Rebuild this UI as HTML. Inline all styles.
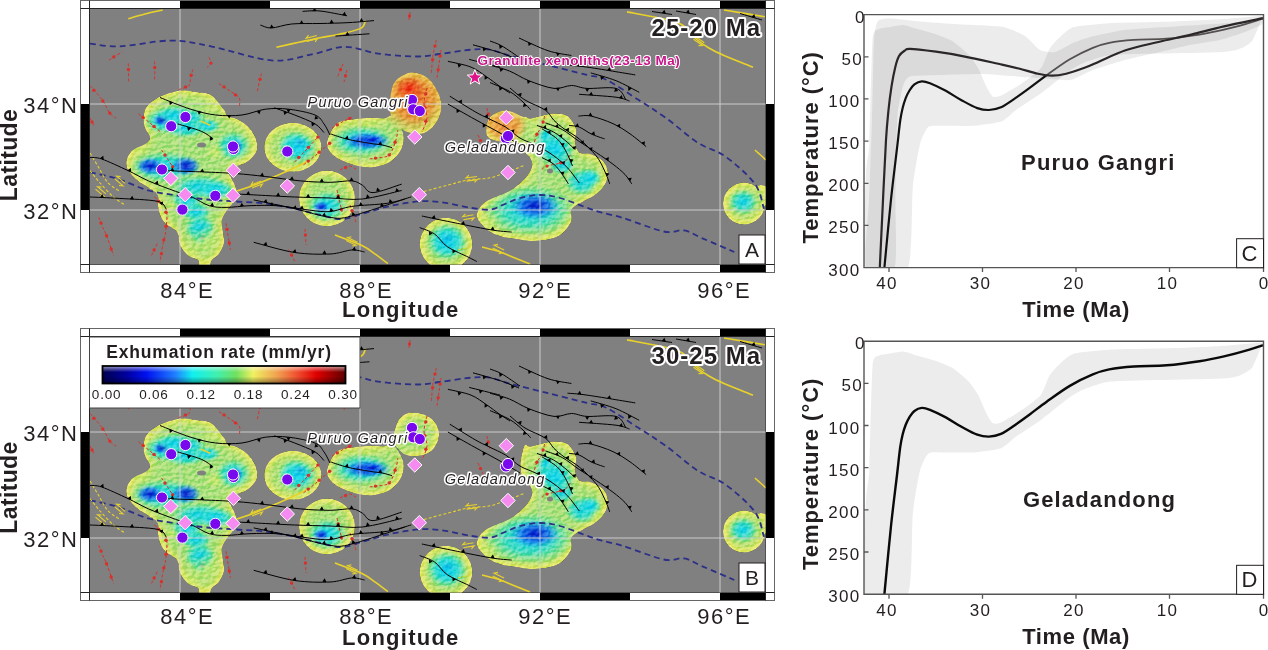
<!DOCTYPE html><html><head><meta charset="utf-8"><style>html,body{margin:0;padding:0;background:#fff;overflow:hidden}svg{display:block}text{font-family:"Liberation Sans",Arial,sans-serif}</style></head><body>
<svg width="1268" height="650" viewBox="0 0 1268 650"><defs>
<radialGradient id="g_cyan"><stop offset="0" stop-color="#10d8f0" stop-opacity="1"/><stop offset="0.55" stop-color="#30e0e0" stop-opacity="0.75"/><stop offset="1" stop-color="#70eac0" stop-opacity="0"/></radialGradient>
<radialGradient id="g_yel"><stop offset="0" stop-color="#d4ec78" stop-opacity="0.85"/><stop offset="1" stop-color="#d4ec78" stop-opacity="0"/></radialGradient>
<radialGradient id="g_blue"><stop offset="0" stop-color="#0a20d0" stop-opacity="1"/><stop offset="0.55" stop-color="#1870f0" stop-opacity="0.75"/><stop offset="1" stop-color="#30b0f0" stop-opacity="0"/></radialGradient>
<radialGradient id="g_orange"><stop offset="0" stop-color="#f07030" stop-opacity="1"/><stop offset="0.55" stop-color="#f0a040" stop-opacity="0.85"/><stop offset="1" stop-color="#f0d060" stop-opacity="0"/></radialGradient>
<radialGradient id="g_red"><stop offset="0" stop-color="#f02010" stop-opacity="0.9"/><stop offset="1" stop-color="#f05020" stop-opacity="0"/></radialGradient>
<radialGradient id="g_orange2"><stop offset="0" stop-color="#eea050" stop-opacity="1"/><stop offset="0.6" stop-color="#f0b050" stop-opacity="0.9"/><stop offset="1" stop-color="#f0d070" stop-opacity="0"/></radialGradient>
<filter id="blobcol" filterUnits="userSpaceOnUse" x="80" y="0" width="700" height="280" color-interpolation-filters="sRGB">
<feGaussianBlur in="SourceAlpha" stdDeviation="7" result="b"/>
<feColorMatrix in="b" type="matrix" values="0 0 0 1 0  0 0 0 1 0  0 0 0 1 0  0 0 0 0 1" result="g"/>
<feComponentTransfer in="g" result="c">
<feFuncR type="table" tableValues="0.93 0.93 0.93 0.93 0.93 0.92 0.88 0.83 0.78 0.74 0.71"/>
<feFuncG type="table" tableValues="0.93 0.93 0.93 0.93 0.93 0.93 0.92 0.91 0.90 0.90 0.90"/>
<feFuncB type="table" tableValues="0.45 0.45 0.45 0.45 0.45 0.45 0.46 0.48 0.50 0.52 0.54"/>
</feComponentTransfer>
<feComposite in="c" in2="SourceAlpha" operator="in"/>
</filter>
<filter id="hill" filterUnits="userSpaceOnUse" x="90" y="9" width="676" height="256" color-interpolation-filters="sRGB">
<feTurbulence type="fractalNoise" baseFrequency="0.2 0.3" numOctaves="3" seed="11" result="t"/>
<feDiffuseLighting in="t" surfaceScale="4" diffuseConstant="1.0" lighting-color="#fff" result="l"><feDistantLight azimuth="225" elevation="35"/></feDiffuseLighting>
<feComponentTransfer in="l"><feFuncR type="linear" slope="0.7" intercept="0.05"/><feFuncG type="linear" slope="0.4" intercept="0.2"/><feFuncB type="linear" slope="0.4" intercept="0.2"/></feComponentTransfer>
</filter>
<filter id="turb" x="0" y="0" width="100%" height="100%"><feTurbulence type="fractalNoise" baseFrequency="0.18 0.35" numOctaves="2" seed="3"/><feColorMatrix type="matrix" values="0 0 0 0 0.2  0 0 0 0 0.3  0 0 0 0 0.1  0 0 0 -2.2 1.3"/></filter>
<pattern id="texture" patternUnits="userSpaceOnUse" width="676" height="256" x="90" y="9"><rect width="676" height="256" filter="url(#turb)"/></pattern>
<linearGradient id="noise"><stop offset="0" stop-color="#fff" stop-opacity="0"/></linearGradient>
<linearGradient id="cbar" x1="0" x2="1" y1="0" y2="0">
<stop offset="0" stop-color="#000050"/><stop offset="0.1" stop-color="#0000a0"/><stop offset="0.18" stop-color="#0010f0"/><stop offset="0.3" stop-color="#2080ff"/><stop offset="0.37" stop-color="#10f0f0"/><stop offset="0.47" stop-color="#40f0b0"/><stop offset="0.55" stop-color="#70e060"/><stop offset="0.62" stop-color="#f0f060"/><stop offset="0.72" stop-color="#f0a050"/><stop offset="0.8" stop-color="#f05030"/><stop offset="0.88" stop-color="#e00000"/><stop offset="1" stop-color="#600000"/></linearGradient>
<linearGradient id="cbarshade" x1="0" x2="0" y1="0" y2="1"><stop offset="0" stop-color="#fff" stop-opacity="0.6"/><stop offset="0.35" stop-color="#fff" stop-opacity="0"/><stop offset="0.6" stop-color="#000" stop-opacity="0"/><stop offset="1" stop-color="#000" stop-opacity="0.4"/></linearGradient>
</defs>
<rect width="1268" height="650" fill="#fff"/>
<g transform="translate(0,0)">
<rect x="80.5" y="0.5" width="694" height="272" fill="#fff" stroke="#666" stroke-width="1"/>
<rect x="180" y="1" width="90" height="7.5" fill="#000"/>
<rect x="180" y="264.5" width="90" height="7.5" fill="#000"/>
<rect x="360" y="1" width="90" height="7.5" fill="#000"/>
<rect x="360" y="264.5" width="90" height="7.5" fill="#000"/>
<rect x="540" y="1" width="90" height="7.5" fill="#000"/>
<rect x="540" y="264.5" width="90" height="7.5" fill="#000"/>
<rect x="720" y="1" width="45.5" height="7.5" fill="#000"/>
<rect x="720" y="264.5" width="45.5" height="7.5" fill="#000"/>
<rect x="81" y="104" width="8.5" height="106" fill="#000"/>
<rect x="765.5" y="104" width="8.5" height="106" fill="#000"/>
<path d="M89.5,0.5V272.5M765.5,0.5V272.5M80.5,8.5H774.5M80.5,264.5H774.5" stroke="#222" stroke-width="1" fill="none"/>
<svg x="90" y="9" width="675.5" height="255.5" viewBox="90 9 675.5 255.5" overflow="hidden">
<rect x="90" y="9" width="676" height="256" fill="#808080"/>
<clipPath id="clipA"><path d="M181.0,90.4 C186.0,90.0 191.0,91.2 196.0,92.0 C201.0,92.8 206.3,92.0 211.0,95.0 C215.7,98.0 221.2,106.3 224.0,109.8 C226.8,113.3 225.5,114.7 227.7,116.2 C229.9,117.7 233.6,117.3 237.0,119.0 C240.4,120.7 244.9,123.3 248.0,126.4 C251.1,129.5 253.8,133.8 255.4,137.5 C256.9,141.2 257.6,145.5 257.3,148.6 C257.0,151.7 255.4,153.7 253.6,156.0 C251.8,158.3 249.0,160.7 246.2,162.4 C243.4,164.1 239.8,164.9 237.0,166.1 C234.2,167.3 231.0,168.3 229.6,169.5 C228.2,170.7 228.2,171.6 228.5,173.0 C228.8,174.4 230.3,175.9 231.4,178.0 C232.5,180.1 234.1,183.0 235.0,185.5 C235.9,188.0 237.0,190.4 237.0,192.9 C237.0,195.4 236.6,197.5 235.0,200.3 C233.4,203.1 229.9,206.2 227.7,209.5 C225.5,212.8 222.8,216.2 222.0,220.0 C221.2,223.8 222.7,228.2 223.0,232.0 C223.3,235.8 224.7,239.3 224.0,243.0 C223.3,246.7 221.0,251.2 219.0,254.0 C217.0,256.8 213.7,258.0 212.0,260.0 C210.3,262.0 211.0,265.0 209.0,266.0 C207.0,267.0 201.8,267.0 200.0,266.0 C198.2,265.0 200.0,261.8 198.0,260.0 C196.0,258.2 191.0,258.0 188.0,255.5 C185.0,253.0 181.8,248.9 180.0,245.0 C178.2,241.1 179.3,235.5 177.0,232.0 C174.7,228.5 168.8,226.7 166.0,224.0 C163.2,221.3 161.8,219.0 160.5,216.0 C159.2,213.0 158.5,209.5 158.0,206.0 C157.5,202.5 159.2,198.1 157.5,195.0 C155.8,191.9 151.2,189.8 148.0,187.5 C144.8,185.2 141.0,183.4 138.0,181.0 C135.0,178.6 131.9,175.5 130.0,173.0 C128.1,170.5 126.9,168.6 126.5,166.0 C126.1,163.4 126.3,160.2 127.5,157.5 C128.7,154.8 130.4,151.9 133.5,149.6 C136.6,147.3 143.1,145.5 145.8,143.5 C148.6,141.5 150.1,140.1 150.0,137.5 C149.9,134.9 146.1,131.1 145.0,128.0 C143.9,124.9 143.4,122.1 143.5,118.8 C143.6,115.5 144.1,111.1 145.8,108.0 C147.5,104.9 150.2,102.7 153.5,100.4 C156.8,98.1 161.2,95.9 165.8,94.2 C170.4,92.5 176.0,90.8 181.0,90.4 Z M264.2,147.3a28.6,24.5 0 1,0 57.2,0a28.6,24.5 0 1,0 -57.2,0Z M299,198.5a28,28 0 1,0 56,0a28,28 0 1,0 -56,0Z M327.6,139.5 C329.0,135.1 332.6,126.8 337.0,123.4 C341.4,120.0 348.3,120.1 353.9,119.2 C359.5,118.3 365.7,118.0 370.8,117.8 C375.9,117.6 380.9,118.6 384.3,118.3 C387.7,118.0 388.9,115.3 391.0,115.8 C393.1,116.2 395.0,118.2 397.0,121.0 C399.0,123.8 402.0,128.8 403.0,132.7 C404.0,136.6 403.9,140.9 403.0,144.6 C402.1,148.3 400.4,151.6 397.9,154.7 C395.3,157.8 392.2,161.1 387.7,163.2 C383.2,165.3 376.4,167.1 370.8,167.4 C365.2,167.7 359.5,166.5 353.9,164.9 C348.3,163.3 341.2,160.7 337.0,158.1 C332.8,155.5 330.1,152.7 328.5,149.6 C326.9,146.5 326.2,143.9 327.6,139.5 Z M419.7,244a26.3,26.3 0 1,0 52.6,0a26.3,26.3 0 1,0 -52.6,0Z M525.0,117.0 C526.4,115.8 527.7,118.8 530.2,118.6 C532.8,118.4 536.3,116.9 540.3,116.1 C544.2,115.2 549.4,113.5 553.9,113.5 C558.4,113.5 563.7,113.5 567.4,116.1 C571.1,118.6 574.6,124.4 575.9,128.8 C577.2,133.2 574.4,138.4 575.0,142.3 C575.6,146.2 576.6,150.5 579.3,152.5 C582.0,154.5 587.1,152.8 591.1,154.2 C595.1,155.6 600.2,157.9 603.0,161.0 C605.8,164.1 607.7,168.9 608.0,172.8 C608.3,176.8 606.9,181.0 604.7,184.7 C602.5,188.4 599.2,191.9 594.6,195.2 C590.0,198.5 581.1,202.1 577.2,204.7 C573.3,207.3 572.0,208.1 571.0,211.0 C570.0,213.9 573.1,217.8 571.0,222.0 C568.9,226.2 564.4,233.0 558.3,236.2 C552.2,239.4 542.1,240.6 534.6,241.0 C527.1,241.4 518.3,239.2 513.0,238.5 C507.7,237.8 507.0,238.2 503.0,237.0 C499.0,235.8 493.3,234.3 489.0,231.0 C484.7,227.7 478.2,221.7 477.0,217.3 C475.8,212.9 479.2,208.0 482.0,204.7 C484.8,201.4 489.1,199.9 493.8,197.5 C498.6,195.1 505.3,193.6 510.5,190.4 C515.7,187.2 521.3,182.5 524.9,178.5 C528.5,174.5 531.2,170.1 532.0,166.5 C532.8,162.9 531.2,159.8 529.6,157.0 C528.0,154.2 524.0,153.0 522.5,149.9 C521.0,146.8 520.5,142.2 520.4,138.2 C520.3,134.2 521.2,129.5 522.0,126.0 C522.8,122.5 523.6,118.2 525.0,117.0 Z M723,203.6a21,21 0 1,0 42,0a21,21 0 1,0 -42,0Z M752,196a9,11 0 1,0 18,0a9,11 0 1,0 -18,0Z M391.1,92.1 C392.1,87.6 392.8,83.5 396.2,80.2 C399.6,77.0 406.0,72.9 411.4,72.6 C416.8,72.3 423.6,74.7 428.3,78.5 C433.0,82.3 437.2,90.1 439.3,95.5 C441.4,100.9 441.7,105.9 441.0,110.7 C440.3,115.5 437.8,120.5 435.1,124.2 C432.4,127.9 428.4,131.1 425.0,132.7 C421.6,134.3 418.2,133.9 414.8,133.6 C411.4,133.3 407.4,132.4 404.6,131.0 C401.8,129.6 400.3,127.5 398.0,125.0 C395.7,122.5 392.3,118.8 391.0,115.8 C389.7,112.8 390.2,111.2 390.2,107.3 C390.2,103.3 390.1,96.6 391.1,92.1 Z M486.2,130.8 C486.4,127.3 486.7,120.4 490.0,117.0 C493.3,113.6 500.4,110.6 505.8,110.5 C511.2,110.4 518.5,114.9 522.5,116.5 C526.5,118.1 528.0,117.4 529.6,120.0 C531.2,122.6 532.9,127.8 532.0,132.0 C531.1,136.2 527.2,143.2 524.0,145.0 C520.8,146.8 517.2,143.3 513.0,142.7 C508.8,142.1 502.6,142.3 498.6,141.5 C494.6,140.7 491.1,139.8 489.0,138.0 C486.9,136.2 486.0,134.3 486.2,130.8 Z"/></clipPath>
<g clip-path="url(#clipA)">
<g filter="url(#blobcol)"><path d="M181.0,90.4 C186.0,90.0 191.0,91.2 196.0,92.0 C201.0,92.8 206.3,92.0 211.0,95.0 C215.7,98.0 221.2,106.3 224.0,109.8 C226.8,113.3 225.5,114.7 227.7,116.2 C229.9,117.7 233.6,117.3 237.0,119.0 C240.4,120.7 244.9,123.3 248.0,126.4 C251.1,129.5 253.8,133.8 255.4,137.5 C256.9,141.2 257.6,145.5 257.3,148.6 C257.0,151.7 255.4,153.7 253.6,156.0 C251.8,158.3 249.0,160.7 246.2,162.4 C243.4,164.1 239.8,164.9 237.0,166.1 C234.2,167.3 231.0,168.3 229.6,169.5 C228.2,170.7 228.2,171.6 228.5,173.0 C228.8,174.4 230.3,175.9 231.4,178.0 C232.5,180.1 234.1,183.0 235.0,185.5 C235.9,188.0 237.0,190.4 237.0,192.9 C237.0,195.4 236.6,197.5 235.0,200.3 C233.4,203.1 229.9,206.2 227.7,209.5 C225.5,212.8 222.8,216.2 222.0,220.0 C221.2,223.8 222.7,228.2 223.0,232.0 C223.3,235.8 224.7,239.3 224.0,243.0 C223.3,246.7 221.0,251.2 219.0,254.0 C217.0,256.8 213.7,258.0 212.0,260.0 C210.3,262.0 211.0,265.0 209.0,266.0 C207.0,267.0 201.8,267.0 200.0,266.0 C198.2,265.0 200.0,261.8 198.0,260.0 C196.0,258.2 191.0,258.0 188.0,255.5 C185.0,253.0 181.8,248.9 180.0,245.0 C178.2,241.1 179.3,235.5 177.0,232.0 C174.7,228.5 168.8,226.7 166.0,224.0 C163.2,221.3 161.8,219.0 160.5,216.0 C159.2,213.0 158.5,209.5 158.0,206.0 C157.5,202.5 159.2,198.1 157.5,195.0 C155.8,191.9 151.2,189.8 148.0,187.5 C144.8,185.2 141.0,183.4 138.0,181.0 C135.0,178.6 131.9,175.5 130.0,173.0 C128.1,170.5 126.9,168.6 126.5,166.0 C126.1,163.4 126.3,160.2 127.5,157.5 C128.7,154.8 130.4,151.9 133.5,149.6 C136.6,147.3 143.1,145.5 145.8,143.5 C148.6,141.5 150.1,140.1 150.0,137.5 C149.9,134.9 146.1,131.1 145.0,128.0 C143.9,124.9 143.4,122.1 143.5,118.8 C143.6,115.5 144.1,111.1 145.8,108.0 C147.5,104.9 150.2,102.7 153.5,100.4 C156.8,98.1 161.2,95.9 165.8,94.2 C170.4,92.5 176.0,90.8 181.0,90.4 Z M264.2,147.3a28.6,24.5 0 1,0 57.2,0a28.6,24.5 0 1,0 -57.2,0Z M299,198.5a28,28 0 1,0 56,0a28,28 0 1,0 -56,0Z M327.6,139.5 C329.0,135.1 332.6,126.8 337.0,123.4 C341.4,120.0 348.3,120.1 353.9,119.2 C359.5,118.3 365.7,118.0 370.8,117.8 C375.9,117.6 380.9,118.6 384.3,118.3 C387.7,118.0 388.9,115.3 391.0,115.8 C393.1,116.2 395.0,118.2 397.0,121.0 C399.0,123.8 402.0,128.8 403.0,132.7 C404.0,136.6 403.9,140.9 403.0,144.6 C402.1,148.3 400.4,151.6 397.9,154.7 C395.3,157.8 392.2,161.1 387.7,163.2 C383.2,165.3 376.4,167.1 370.8,167.4 C365.2,167.7 359.5,166.5 353.9,164.9 C348.3,163.3 341.2,160.7 337.0,158.1 C332.8,155.5 330.1,152.7 328.5,149.6 C326.9,146.5 326.2,143.9 327.6,139.5 Z M419.7,244a26.3,26.3 0 1,0 52.6,0a26.3,26.3 0 1,0 -52.6,0Z M525.0,117.0 C526.4,115.8 527.7,118.8 530.2,118.6 C532.8,118.4 536.3,116.9 540.3,116.1 C544.2,115.2 549.4,113.5 553.9,113.5 C558.4,113.5 563.7,113.5 567.4,116.1 C571.1,118.6 574.6,124.4 575.9,128.8 C577.2,133.2 574.4,138.4 575.0,142.3 C575.6,146.2 576.6,150.5 579.3,152.5 C582.0,154.5 587.1,152.8 591.1,154.2 C595.1,155.6 600.2,157.9 603.0,161.0 C605.8,164.1 607.7,168.9 608.0,172.8 C608.3,176.8 606.9,181.0 604.7,184.7 C602.5,188.4 599.2,191.9 594.6,195.2 C590.0,198.5 581.1,202.1 577.2,204.7 C573.3,207.3 572.0,208.1 571.0,211.0 C570.0,213.9 573.1,217.8 571.0,222.0 C568.9,226.2 564.4,233.0 558.3,236.2 C552.2,239.4 542.1,240.6 534.6,241.0 C527.1,241.4 518.3,239.2 513.0,238.5 C507.7,237.8 507.0,238.2 503.0,237.0 C499.0,235.8 493.3,234.3 489.0,231.0 C484.7,227.7 478.2,221.7 477.0,217.3 C475.8,212.9 479.2,208.0 482.0,204.7 C484.8,201.4 489.1,199.9 493.8,197.5 C498.6,195.1 505.3,193.6 510.5,190.4 C515.7,187.2 521.3,182.5 524.9,178.5 C528.5,174.5 531.2,170.1 532.0,166.5 C532.8,162.9 531.2,159.8 529.6,157.0 C528.0,154.2 524.0,153.0 522.5,149.9 C521.0,146.8 520.5,142.2 520.4,138.2 C520.3,134.2 521.2,129.5 522.0,126.0 C522.8,122.5 523.6,118.2 525.0,117.0 Z M723,203.6a21,21 0 1,0 42,0a21,21 0 1,0 -42,0Z M752,196a9,11 0 1,0 18,0a9,11 0 1,0 -18,0Z M391.1,92.1 C392.1,87.6 392.8,83.5 396.2,80.2 C399.6,77.0 406.0,72.9 411.4,72.6 C416.8,72.3 423.6,74.7 428.3,78.5 C433.0,82.3 437.2,90.1 439.3,95.5 C441.4,100.9 441.7,105.9 441.0,110.7 C440.3,115.5 437.8,120.5 435.1,124.2 C432.4,127.9 428.4,131.1 425.0,132.7 C421.6,134.3 418.2,133.9 414.8,133.6 C411.4,133.3 407.4,132.4 404.6,131.0 C401.8,129.6 400.3,127.5 398.0,125.0 C395.7,122.5 392.3,118.8 391.0,115.8 C389.7,112.8 390.2,111.2 390.2,107.3 C390.2,103.3 390.1,96.6 391.1,92.1 Z M486.2,130.8 C486.4,127.3 486.7,120.4 490.0,117.0 C493.3,113.6 500.4,110.6 505.8,110.5 C511.2,110.4 518.5,114.9 522.5,116.5 C526.5,118.1 528.0,117.4 529.6,120.0 C531.2,122.6 532.9,127.8 532.0,132.0 C531.1,136.2 527.2,143.2 524.0,145.0 C520.8,146.8 517.2,143.3 513.0,142.7 C508.8,142.1 502.6,142.3 498.6,141.5 C494.6,140.7 491.1,139.8 489.0,138.0 C486.9,136.2 486.0,134.3 486.2,130.8 Z" fill="#000"/></g>
<ellipse cx="165" cy="121" rx="22" ry="13" fill="url(#g_cyan)"/>
<ellipse cx="190" cy="118" rx="16" ry="10" fill="url(#g_cyan)"/>
<ellipse cx="185" cy="128" rx="22" ry="10" fill="url(#g_cyan)"/>
<ellipse cx="233" cy="146" rx="18" ry="15" fill="url(#g_cyan)"/>
<ellipse cx="162" cy="120" rx="9" ry="6" fill="url(#g_blue)"/>
<ellipse cx="235" cy="146" rx="8" ry="7" fill="url(#g_blue)"/>
<ellipse cx="165" cy="167" rx="36" ry="16" fill="url(#g_cyan)"/>
<ellipse cx="150" cy="166" rx="14" ry="9" fill="url(#g_blue)"/>
<ellipse cx="186" cy="166" rx="15" ry="10" fill="url(#g_blue)"/>
<ellipse cx="200" cy="187" rx="30" ry="12" fill="url(#g_cyan)"/>
<ellipse cx="196" cy="212" rx="16" ry="10" fill="url(#g_cyan)"/>
<ellipse cx="202" cy="237" rx="10" ry="9" fill="url(#g_cyan)"/>
<ellipse cx="202" cy="237" rx="4" ry="4" fill="url(#g_blue)"/>
<ellipse cx="295" cy="145" rx="17" ry="14" fill="url(#g_cyan)"/>
<ellipse cx="300" cy="143" rx="8" ry="6" fill="url(#g_blue)"/>
<ellipse cx="327" cy="206" rx="20" ry="16" fill="url(#g_cyan)"/>
<ellipse cx="321" cy="207" rx="8" ry="6" fill="url(#g_blue)"/>
<ellipse cx="362" cy="141" rx="32" ry="16" fill="url(#g_cyan)"/>
<ellipse cx="367" cy="141" rx="24" ry="9" fill="url(#g_blue)"/>
<ellipse cx="372" cy="140" rx="12" ry="5" fill="url(#g_blue)"/>
<ellipse cx="447" cy="241" rx="18" ry="16" fill="url(#g_cyan)"/>
<ellipse cx="447" cy="240" rx="8" ry="7" fill="url(#g_blue)"/>
<ellipse cx="530" cy="210" rx="46" ry="26" fill="url(#g_cyan)"/>
<ellipse cx="535" cy="206" rx="25" ry="14" fill="url(#g_blue)"/>
<ellipse cx="550" cy="145" rx="18" ry="14" fill="url(#g_cyan)"/>
<ellipse cx="582" cy="182" rx="18" ry="14" fill="url(#g_cyan)"/>
<ellipse cx="562" cy="165" rx="14" ry="10" fill="url(#g_cyan)"/>
<ellipse cx="743" cy="202" rx="15" ry="13" fill="url(#g_cyan)"/>
<ellipse cx="175" cy="115" rx="20" ry="10" fill="url(#g_cyan)"/>
<ellipse cx="207" cy="126" rx="14" ry="8" fill="url(#g_cyan)"/>
<ellipse cx="216" cy="190" rx="20" ry="10" fill="url(#g_cyan)"/>
<ellipse cx="186" cy="201" rx="18" ry="10" fill="url(#g_cyan)"/>
<ellipse cx="200" cy="228" rx="16" ry="14" fill="url(#g_cyan)"/>
<ellipse cx="298" cy="148" rx="20" ry="16" fill="url(#g_cyan)"/>
<ellipse cx="447" cy="242" rx="21" ry="19" fill="url(#g_cyan)"/>
<ellipse cx="556" cy="150" rx="20" ry="17" fill="url(#g_cyan)"/>
<ellipse cx="545" cy="135" rx="10" ry="8" fill="url(#g_cyan)"/>
<ellipse cx="590" cy="178" rx="12" ry="10" fill="url(#g_cyan)"/>
<ellipse cx="212" cy="106" rx="14" ry="9" fill="url(#g_yel)"/>
<ellipse cx="215" cy="152" rx="12" ry="9" fill="url(#g_yel)"/>
<ellipse cx="205" cy="240" rx="16" ry="14" fill="url(#g_yel)"/>
<ellipse cx="190" cy="252" rx="12" ry="8" fill="url(#g_yel)"/>
<ellipse cx="536" cy="130" rx="10" ry="10" fill="url(#g_yel)"/>
<ellipse cx="488" cy="222" rx="12" ry="9" fill="url(#g_yel)"/>
<ellipse cx="365" cy="124" rx="18" ry="5" fill="url(#g_yel)"/>
<ellipse cx="598" cy="188" rx="8" ry="8" fill="url(#g_yel)"/>
<ellipse cx="140" cy="150" rx="10" ry="6" fill="url(#g_yel)"/>
<ellipse cx="172" cy="205" rx="10" ry="8" fill="url(#g_yel)"/>
<ellipse cx="414" cy="100" rx="36" ry="36" fill="url(#g_orange)"/>
<ellipse cx="409" cy="88" rx="16" ry="12" fill="url(#g_red)"/>
<ellipse cx="505" cy="126" rx="24" ry="18" fill="url(#g_orange2)"/>
<rect x="90" y="9" width="676" height="256" filter="url(#hill)" style="mix-blend-mode:soft-light"/>
</g>
<ellipse cx="201.5" cy="145" rx="4.5" ry="2.5" fill="#808080"/>
<ellipse cx="550" cy="171" rx="3" ry="2.5" fill="#808080"/>
<path d="M180,9V265M360,9V265M540,9V265M720,9V265M90,104H766M90,210H766" stroke="#d4d4d4" stroke-width="1" fill="none" opacity="0.9"/>
<path d="M90.0,43.7 C95.0,44.1 106.6,46.8 120.0,46.3 C133.4,45.8 155.4,40.6 170.6,40.6 C185.8,40.6 194.2,43.0 211.0,46.3 C227.8,49.6 254.6,59.0 271.4,60.4 C288.2,61.8 299.4,56.7 311.7,54.4 C324.0,52.1 334.1,46.9 345.2,46.8 C356.2,46.7 366.1,52.0 378.0,53.6 C389.9,55.2 406.6,56.4 416.9,56.5 C427.2,56.6 431.0,55.1 440.0,54.0 C449.0,52.9 462.7,50.4 471.0,49.7 C479.3,49.0 483.6,48.7 490.0,49.7 C496.4,50.7 499.7,52.9 509.4,55.5 C519.1,58.1 535.1,62.0 548.0,65.2 C560.9,68.4 577.2,72.5 586.9,74.9 C596.6,77.3 597.6,75.5 606.3,79.7 C614.9,83.9 628.8,93.7 638.8,100.1 C648.8,106.5 656.1,110.9 666.0,118.0 C675.9,125.1 688.0,136.4 697.9,142.8 C707.8,149.2 715.7,149.6 725.2,156.4 C734.7,163.2 748.3,175.0 754.8,183.7 C761.2,192.4 762.4,204.6 763.9,208.8" fill="none" stroke="#2b2f86" stroke-width="1.8" stroke-dasharray="6,4" stroke-linecap="butt"/>
<path d="M90.0,172.1 C94.9,173.3 109.5,176.3 119.2,179.4 C128.9,182.5 138.8,187.8 148.5,190.5 C158.2,193.2 167.9,194.0 177.7,195.5 C187.4,197.0 197.2,198.5 207.0,199.5 C216.8,200.5 226.5,200.8 236.2,201.5 C245.9,202.2 255.6,202.3 265.4,203.5 C275.1,204.7 285.6,206.8 294.7,208.7 C303.8,210.6 312.2,213.2 320.0,214.9 C327.8,216.6 334.1,219.3 341.2,219.1 C348.3,218.9 355.3,215.7 362.4,213.8 C369.5,211.9 376.6,209.3 383.7,207.5 C390.8,205.7 397.8,204.3 404.9,203.2 C412.0,202.1 419.0,201.1 426.1,201.1 C433.2,201.1 440.2,202.1 447.3,203.2 C454.4,204.3 461.5,206.4 468.6,207.5 C475.7,208.6 483.9,210.2 490.0,209.6 C496.1,209.0 500.0,205.9 505.0,204.0 C510.0,202.1 514.2,199.5 520.0,198.0 C525.8,196.5 533.3,195.0 540.0,195.0 C546.7,195.0 552.5,196.0 560.0,198.0 C567.5,200.0 578.3,204.6 585.0,207.0 C591.7,209.4 593.7,210.4 600.0,212.2 C606.3,214.0 612.2,214.7 622.8,217.9 C633.4,221.1 653.5,229.4 663.7,231.5 C673.9,233.6 677.8,229.3 684.2,230.4 C690.7,231.5 694.0,234.7 702.4,238.3 C710.8,241.9 729.0,249.7 734.3,252.0" fill="none" stroke="#2b2f86" stroke-width="1.8" stroke-dasharray="6,4" stroke-linecap="butt"/>
<path d="M128.3,18.7 C131.1,17.9 139.3,15.4 145.0,14.0 C150.7,12.6 159.7,10.7 162.6,10.0" fill="none" stroke="#e8d22a" stroke-width="1.6" stroke-linecap="butt"/>
<path d="M276.4,47.3 C280.3,46.4 292.7,43.6 300.0,42.0 C307.3,40.4 313.4,39.0 320.0,37.7 C326.6,36.4 332.6,35.8 339.4,34.2 C346.2,32.7 356.3,30.7 360.7,28.4 C365.1,26.1 364.7,21.9 365.5,20.6" fill="none" stroke="#e8d22a" stroke-width="1.6" stroke-linecap="butt"/>
<path d="M627.0,11.9 C632.2,12.9 648.9,15.6 658.0,17.7 C667.1,19.8 675.2,21.1 681.4,24.5 C687.6,27.9 690.5,34.1 695.0,38.0 C699.5,41.9 703.7,44.9 708.5,47.8 C713.3,50.7 716.6,52.3 724.0,55.5 C731.4,58.7 748.2,65.2 753.0,67.2" fill="none" stroke="#e8d22a" stroke-width="1.6" stroke-linecap="butt"/>
<path d="M724.0,10.0 C730.8,11.1 758.0,15.7 764.8,16.8" fill="none" stroke="#e8d22a" stroke-width="1.6" stroke-linecap="butt"/>
<path d="M334.9,235.0 C339.5,236.8 355.7,242.5 362.4,245.7 C369.1,248.9 370.9,251.2 375.2,254.2 C379.4,257.2 385.8,262.1 387.9,263.7" fill="none" stroke="#e8d22a" stroke-width="1.6" stroke-linecap="butt"/>
<path d="M227.4,194.0 C231.8,192.6 242.5,189.7 253.7,185.3 C264.9,180.9 285.3,171.9 294.7,167.7 C304.1,163.5 307.4,161.3 310.0,160.0" fill="none" stroke="#e8d22a" stroke-width="1.6" stroke-linecap="butt"/>
<path d="M482.0,247.0 C485.0,247.8 494.5,250.2 500.0,252.0 C505.5,253.8 510.0,256.0 515.0,258.0 C520.0,260.0 527.5,263.0 530.0,264.0" fill="none" stroke="#e8d22a" stroke-width="1.6" stroke-linecap="butt"/>
<path d="M755.0,150.0 C756.8,151.7 764.2,158.3 766.0,160.0" fill="none" stroke="#e8d22a" stroke-width="1.6" stroke-linecap="butt"/>
<path d="M201.0,121.0 C202.5,121.7 208.5,124.6 210.0,125.3" fill="none" stroke="#e8d22a" stroke-width="1.6" stroke-linecap="butt"/>
<path d="M306.9,41.5L317.5,38.6L315.1,41.8M316.7,35.5L306.1,38.4L308.5,35.2" fill="none" stroke="#e8d22a" stroke-width="1.1"/>
<path d="M252.1,187.9L262.4,184.1L260.2,187.5M261.3,181.1L251.0,184.9L253.2,181.5" fill="none" stroke="#e8d22a" stroke-width="1.1"/>
<path d="M466.5,181.1L477.4,179.6L474.5,182.4M476.9,176.5L466.0,178.0L468.9,175.2" fill="none" stroke="#e8d22a" stroke-width="1.1"/>
<path d="M463.3,219.8L474.1,217.9L471.4,220.8M473.5,214.8L462.7,216.7L465.4,213.8" fill="none" stroke="#e8d22a" stroke-width="1.1"/>
<path d="M492.7,248.1L502.7,252.8L498.8,253.6M504.1,249.9L494.1,245.2L498.0,244.4" fill="none" stroke="#e8d22a" stroke-width="1.1"/>
<path d="M693.5,39.2L702.5,45.5L698.5,45.6M704.3,42.8L695.3,36.5L699.3,36.4" fill="none" stroke="#e8d22a" stroke-width="1.1"/>
<path d="M346.1,240.5L356.1,245.2L352.2,246.0M357.5,242.3L347.5,237.6L351.4,236.8" fill="none" stroke="#e8d22a" stroke-width="1.1"/>
<path d="M114.6,178.7L123.0,185.8L119.0,185.5M125.0,183.3L116.6,176.2L120.6,176.5" fill="none" stroke="#e8d22a" stroke-width="1.1"/>
<path d="M95.5,189.2L103.9,196.3L99.9,196.0M105.9,193.8L97.5,186.7L101.5,187.0" fill="none" stroke="#e8d22a" stroke-width="1.1"/>
<path d="M424.0,191.5 C427.9,190.4 439.9,187.1 447.3,185.2 C454.7,183.3 461.5,181.1 468.6,179.9 C475.7,178.7 483.1,179.3 490.0,177.8 C496.9,176.3 504.2,173.1 510.0,171.0 C515.8,168.9 522.5,166.0 525.0,165.0" fill="none" stroke="#e8d22a" stroke-width="1.1" stroke-dasharray="3,2" stroke-linecap="butt"/>
<path d="M90.0,153.0 C91.5,155.4 95.9,162.8 98.8,167.7 C101.7,172.6 104.1,178.4 107.5,182.3 C110.9,186.2 117.2,189.6 119.2,191.0" fill="none" stroke="#e8d22a" stroke-width="1.1" stroke-dasharray="3,2" stroke-linecap="butt"/>
<path d="M90.0,170.6 C91.7,172.7 96.1,178.6 100.0,183.0 C103.9,187.4 109.2,193.3 113.4,197.0 C117.6,200.7 123.1,203.7 125.0,205.0" fill="none" stroke="#e8d22a" stroke-width="1.1" stroke-dasharray="3,2" stroke-linecap="butt"/>
<path d="M458.0,250.0 C460.0,249.5 468.0,247.5 470.0,247.0" fill="none" stroke="#e8d22a" stroke-width="1.1" stroke-dasharray="3,2" stroke-linecap="butt"/>
<path d="M109.0,60.4 C110.0,59.7 112.8,57.4 115.0,56.0 C117.2,54.6 121.1,52.9 122.3,52.3" fill="none" stroke="#d8312c" stroke-width="1.0" stroke-dasharray="3,2" stroke-linecap="butt"/>
<circle cx="113.8" cy="56.9" r="1.7" fill="#d8312c"/>
<path d="M128.3,63.4 C128.3,64.8 128.4,69.0 128.5,72.0 C128.6,75.0 128.7,80.0 128.7,81.6" fill="none" stroke="#d8312c" stroke-width="1.0" stroke-dasharray="3,2" stroke-linecap="butt"/>
<circle cx="128.4" cy="69.4" r="1.7" fill="#d8312c"/>
<path d="M154.5,61.4 C154.6,62.8 154.8,67.0 154.8,70.0 C154.8,73.0 154.6,78.0 154.5,79.6" fill="none" stroke="#d8312c" stroke-width="1.0" stroke-dasharray="3,2" stroke-linecap="butt"/>
<circle cx="154.7" cy="67.4" r="1.7" fill="#d8312c"/>
<path d="M192.8,69.5 C192.4,70.9 191.2,75.3 190.5,78.0 C189.8,80.7 190.8,83.7 188.8,85.6 C186.8,87.5 180.4,88.9 178.7,89.6" fill="none" stroke="#d8312c" stroke-width="1.0" stroke-dasharray="3,2" stroke-linecap="butt"/>
<circle cx="191.2" cy="75.3" r="1.7" fill="#d8312c"/>
<circle cx="185.6" cy="86.9" r="1.7" fill="#d8312c"/>
<path d="M209.0,57.4 C209.3,58.4 211.3,61.7 211.0,63.4 C210.7,65.1 207.7,66.8 207.0,67.5" fill="none" stroke="#d8312c" stroke-width="1.0" stroke-dasharray="3,2" stroke-linecap="butt"/>
<circle cx="210.9" cy="63.1" r="1.7" fill="#d8312c"/>
<path d="M219.0,83.6 C221.0,84.9 227.7,89.3 231.1,91.7 C234.5,94.1 237.8,95.4 239.2,97.7 C240.6,100.0 239.4,104.5 239.5,105.8" fill="none" stroke="#d8312c" stroke-width="1.0" stroke-dasharray="3,2" stroke-linecap="butt"/>
<circle cx="224.0" cy="86.9" r="1.7" fill="#d8312c"/>
<circle cx="235.5" cy="94.9" r="1.7" fill="#d8312c"/>
<path d="M261.4,73.5 C261.1,74.8 260.1,78.6 259.4,81.6 C258.7,84.6 257.6,90.0 257.3,91.7" fill="none" stroke="#d8312c" stroke-width="1.0" stroke-dasharray="3,2" stroke-linecap="butt"/>
<circle cx="260.0" cy="79.3" r="1.7" fill="#d8312c"/>
<path d="M90.0,85.6 C92.0,87.9 98.7,95.0 102.1,99.7 C105.5,104.4 107.8,110.8 110.2,113.8 C112.6,116.8 115.2,117.2 116.2,117.9" fill="none" stroke="#d8312c" stroke-width="1.0" stroke-dasharray="3,2" stroke-linecap="butt"/>
<circle cx="93.9" cy="90.2" r="1.7" fill="#d8312c"/>
<circle cx="102.8" cy="100.9" r="1.7" fill="#d8312c"/>
<circle cx="109.8" cy="113.1" r="1.7" fill="#d8312c"/>
<path d="M90.0,117.9 C90.7,119.2 93.3,124.6 94.0,125.9" fill="none" stroke="#d8312c" stroke-width="1.0" stroke-dasharray="3,2" stroke-linecap="butt"/>
<circle cx="92.0" cy="121.9" r="1.7" fill="#d8312c"/>
<path d="M138.4,113.8 C140.3,115.3 146.3,120.0 150.0,123.0 C153.7,126.0 158.8,130.5 160.6,132.0" fill="none" stroke="#d8312c" stroke-width="1.0" stroke-dasharray="3,2" stroke-linecap="butt"/>
<circle cx="143.1" cy="117.5" r="1.7" fill="#d8312c"/>
<circle cx="154.0" cy="126.4" r="1.7" fill="#d8312c"/>
<path d="M161.6,150.0 C162.5,151.3 165.1,155.1 167.0,158.0 C168.9,160.9 172.2,166.1 173.3,167.7" fill="none" stroke="#d8312c" stroke-width="1.0" stroke-dasharray="3,2" stroke-linecap="butt"/>
<circle cx="165.0" cy="155.0" r="1.7" fill="#d8312c"/>
<circle cx="172.6" cy="166.7" r="1.7" fill="#d8312c"/>
<path d="M98.8,217.4 C99.5,219.2 101.5,224.6 103.0,228.0 C104.5,231.4 105.8,233.4 107.5,238.0 C109.2,242.6 112.4,252.5 113.4,255.4" fill="none" stroke="#d8312c" stroke-width="1.0" stroke-dasharray="3,2" stroke-linecap="butt"/>
<circle cx="101.0" cy="223.0" r="1.7" fill="#d8312c"/>
<circle cx="106.5" cy="235.8" r="1.7" fill="#d8312c"/>
<circle cx="111.2" cy="249.0" r="1.7" fill="#d8312c"/>
<path d="M154.3,197.0 C156.2,198.9 164.1,203.4 166.0,208.7 C167.9,214.0 166.5,223.2 166.0,229.0 C165.5,234.8 164.0,238.2 163.0,243.7 C162.0,249.2 160.5,258.9 160.0,262.0" fill="none" stroke="#d8312c" stroke-width="1.0" stroke-dasharray="3,2" stroke-linecap="butt"/>
<circle cx="158.5" cy="201.2" r="1.7" fill="#d8312c"/>
<circle cx="166.0" cy="212.2" r="1.7" fill="#d8312c"/>
<circle cx="166.0" cy="226.2" r="1.7" fill="#d8312c"/>
<circle cx="163.8" cy="239.9" r="1.7" fill="#d8312c"/>
<circle cx="161.4" cy="253.7" r="1.7" fill="#d8312c"/>
<path d="M151.4,255.4 C152.4,253.4 156.3,245.6 157.3,243.7" fill="none" stroke="#d8312c" stroke-width="1.0" stroke-dasharray="3,2" stroke-linecap="butt"/>
<circle cx="154.1" cy="250.0" r="1.7" fill="#d8312c"/>
<path d="M226.0,223.3 C226.7,227.7 229.7,245.2 230.4,249.6" fill="none" stroke="#d8312c" stroke-width="1.0" stroke-dasharray="3,2" stroke-linecap="butt"/>
<circle cx="227.0" cy="229.2" r="1.7" fill="#d8312c"/>
<circle cx="229.3" cy="243.0" r="1.7" fill="#d8312c"/>
<path d="M288.8,249.6 C289.8,251.6 293.7,259.4 294.7,261.3" fill="none" stroke="#d8312c" stroke-width="1.0" stroke-dasharray="3,2" stroke-linecap="butt"/>
<circle cx="291.5" cy="255.0" r="1.7" fill="#d8312c"/>
<path d="M305.0,229.0 C305.2,231.7 305.8,242.3 306.0,245.0" fill="none" stroke="#d8312c" stroke-width="1.0" stroke-dasharray="3,2" stroke-linecap="butt"/>
<circle cx="305.4" cy="235.0" r="1.7" fill="#d8312c"/>
<path d="M294.7,161.9 C296.6,159.9 302.1,154.2 306.0,150.0 C309.9,145.8 316.0,139.2 318.0,137.0" fill="none" stroke="#d8312c" stroke-width="1.0" stroke-dasharray="3,2" stroke-linecap="butt"/>
<circle cx="298.8" cy="157.5" r="1.7" fill="#d8312c"/>
<circle cx="308.4" cy="147.4" r="1.7" fill="#d8312c"/>
<circle cx="317.9" cy="137.1" r="1.7" fill="#d8312c"/>
<path d="M303.5,164.8 C305.6,163.2 311.6,158.7 316.0,155.0 C320.4,151.3 327.7,144.9 330.0,142.9" fill="none" stroke="#d8312c" stroke-width="1.0" stroke-dasharray="3,2" stroke-linecap="butt"/>
<circle cx="308.2" cy="161.1" r="1.7" fill="#d8312c"/>
<circle cx="319.1" cy="152.3" r="1.7" fill="#d8312c"/>
<circle cx="329.7" cy="143.2" r="1.7" fill="#d8312c"/>
<path d="M343.0,64.0 C342.0,66.3 338.0,75.7 337.0,78.0" fill="none" stroke="#d8312c" stroke-width="1.0" stroke-dasharray="3,2" stroke-linecap="butt"/>
<circle cx="340.6" cy="69.5" r="1.7" fill="#d8312c"/>
<path d="M347.0,70.0 C346.5,72.0 344.5,80.0 344.0,82.0" fill="none" stroke="#d8312c" stroke-width="1.0" stroke-dasharray="3,2" stroke-linecap="butt"/>
<circle cx="345.5" cy="75.8" r="1.7" fill="#d8312c"/>
<path d="M436.3,40.0 C435.8,42.5 433.8,49.5 433.0,55.0 C432.2,60.5 431.7,70.0 431.4,73.0" fill="none" stroke="#d8312c" stroke-width="1.0" stroke-dasharray="3,2" stroke-linecap="butt"/>
<circle cx="435.0" cy="45.9" r="1.7" fill="#d8312c"/>
<circle cx="432.6" cy="59.6" r="1.7" fill="#d8312c"/>
<path d="M441.0,50.0 C440.7,52.3 439.7,59.3 439.0,64.0 C438.3,68.7 437.3,75.7 437.0,78.0" fill="none" stroke="#d8312c" stroke-width="1.0" stroke-dasharray="3,2" stroke-linecap="butt"/>
<circle cx="440.2" cy="55.9" r="1.7" fill="#d8312c"/>
<circle cx="438.2" cy="69.8" r="1.7" fill="#d8312c"/>
<path d="M410.0,12.0 C409.8,13.3 409.2,18.7 409.0,20.0" fill="none" stroke="#d8312c" stroke-width="1.0" stroke-dasharray="3,2" stroke-linecap="butt"/>
<circle cx="409.5" cy="16.0" r="1.7" fill="#d8312c"/>
<path d="M427.0,88.0 C426.5,90.5 424.0,98.0 424.0,103.0 C424.0,108.0 427.3,113.2 427.0,118.0 C426.7,122.8 422.8,129.7 422.0,132.0" fill="none" stroke="#d8312c" stroke-width="1.0" stroke-dasharray="3,2" stroke-linecap="butt"/>
<circle cx="425.8" cy="93.9" r="1.7" fill="#d8312c"/>
<circle cx="424.9" cy="107.6" r="1.7" fill="#d8312c"/>
<circle cx="425.9" cy="121.2" r="1.7" fill="#d8312c"/>
<path d="M544.6,116.1 C544.2,117.8 543.3,123.2 542.0,126.2 C540.7,129.2 538.3,131.2 537.0,133.9 C535.7,136.6 534.8,140.9 534.4,142.3" fill="none" stroke="#d8312c" stroke-width="1.0" stroke-dasharray="3,2" stroke-linecap="butt"/>
<circle cx="543.1" cy="121.9" r="1.7" fill="#d8312c"/>
<circle cx="536.9" cy="134.3" r="1.7" fill="#d8312c"/>
<path d="M542.0,169.4 C542.9,168.8 543.4,167.3 547.1,166.0 C550.8,164.7 560.0,163.8 564.0,161.8 C568.0,159.8 569.7,155.5 570.8,154.2" fill="none" stroke="#d8312c" stroke-width="1.0" stroke-dasharray="3,2" stroke-linecap="butt"/>
<circle cx="547.0" cy="166.1" r="1.7" fill="#d8312c"/>
<circle cx="560.6" cy="162.7" r="1.7" fill="#d8312c"/>
<path d="M487.0,108.0 C487.5,110.3 489.5,119.7 490.0,122.0" fill="none" stroke="#d8312c" stroke-width="1.0" stroke-dasharray="3,2" stroke-linecap="butt"/>
<circle cx="488.3" cy="113.9" r="1.7" fill="#d8312c"/>
<path d="M478.0,135.0 C479.0,137.2 483.0,145.8 484.0,148.0" fill="none" stroke="#d8312c" stroke-width="1.0" stroke-dasharray="3,2" stroke-linecap="butt"/>
<circle cx="480.5" cy="140.4" r="1.7" fill="#d8312c"/>
<path d="M337.0,190.0 C337.8,193.7 341.2,208.3 342.0,212.0" fill="none" stroke="#d8312c" stroke-width="1.0" stroke-dasharray="3,2" stroke-linecap="butt"/>
<circle cx="338.3" cy="195.9" r="1.7" fill="#d8312c"/>
<circle cx="341.4" cy="209.5" r="1.7" fill="#d8312c"/>
<path d="M350.0,205.0 C351.0,207.8 355.0,219.2 356.0,222.0" fill="none" stroke="#d8312c" stroke-width="1.0" stroke-dasharray="3,2" stroke-linecap="butt"/>
<circle cx="352.0" cy="210.7" r="1.7" fill="#d8312c"/>
<path d="M369.6,158.9 C371.3,158.7 376.7,158.2 380.0,157.5 C383.3,156.8 386.7,157.6 389.3,154.9 C391.9,152.2 394.1,145.7 395.5,141.5 C396.9,137.3 397.6,131.9 398.0,130.0" fill="none" stroke="#d8312c" stroke-width="1.0" stroke-dasharray="3,2" stroke-linecap="butt"/>
<circle cx="375.5" cy="158.1" r="1.7" fill="#d8312c"/>
<circle cx="389.2" cy="154.9" r="1.7" fill="#d8312c"/>
<circle cx="395.1" cy="142.3" r="1.7" fill="#d8312c"/>
<path d="M340.0,170.0 C341.5,169.3 346.3,166.2 349.0,166.0 C351.7,165.8 354.8,168.5 356.0,169.0" fill="none" stroke="#d8312c" stroke-width="1.0" stroke-dasharray="3,2" stroke-linecap="butt"/>
<circle cx="345.5" cy="167.6" r="1.7" fill="#d8312c"/>
<path d="M332.1,128.0 C333.8,127.0 338.7,123.8 342.0,122.0 C345.3,120.2 350.2,118.2 351.8,117.4" fill="none" stroke="#d8312c" stroke-width="1.0" stroke-dasharray="3,2" stroke-linecap="butt"/>
<circle cx="337.2" cy="124.9" r="1.7" fill="#d8312c"/>
<circle cx="349.6" cy="118.4" r="1.7" fill="#d8312c"/>
<path d="M90.0,157.5 C92.0,157.8 95.4,156.8 101.7,159.0 C108.0,161.2 120.2,166.9 128.0,170.6 C135.8,174.2 140.6,177.4 148.5,180.9 C156.4,184.4 168.1,188.6 175.4,191.3 C182.7,194.0 186.7,194.8 192.3,197.2 C197.9,199.6 203.6,204.0 209.2,205.7 C214.8,207.4 219.3,207.4 226.1,207.4 C232.9,207.4 241.5,206.0 250.0,205.7 C258.5,205.4 267.2,205.0 277.1,205.7 C287.0,206.4 300.5,209.1 309.3,210.1 C318.1,211.1 322.9,212.2 330.0,211.6 C337.1,211.0 342.2,207.8 351.8,206.4 C361.4,205.0 378.0,204.8 387.9,203.2 C397.8,201.6 407.4,197.9 411.3,196.9" fill="none" stroke="#000" stroke-width="1.0"/><path d="M100.0,158.2L103.8,159.9L103.3,155.8ZM127.4,170.3L131.2,172.2L130.9,168.1ZM154.5,183.2L158.4,184.7L157.7,180.6ZM182.6,193.8L186.5,195.2L185.7,191.1ZM210.0,205.8L214.1,206.2L212.4,202.4ZM239.8,206.4L244.0,206.1L241.7,202.7ZM269.8,205.7L274.0,205.7L271.9,202.1ZM299.6,208.8L303.8,209.3L302.2,205.5ZM329.5,211.7L333.6,210.8L330.7,207.8ZM358.8,205.8L363.0,205.4L360.6,202.0ZM388.7,203.0L392.7,201.9L389.8,199.0Z" fill="#000"/>
<path d="M90.0,197.0 C94.9,197.2 108.0,197.7 119.2,198.4 C130.4,199.1 149.5,199.6 157.3,201.3 C165.1,203.0 164.6,207.5 166.0,208.7" fill="none" stroke="#000" stroke-width="1.0"/><path d="M99.9,197.5L104.1,197.7L102.2,194.0ZM129.8,199.2L134.0,199.5L132.2,195.8ZM159.2,202.9L162.4,205.6L163.1,201.5Z" fill="#000"/>
<path d="M160.2,170.6 C168.0,170.8 194.3,171.6 207.0,172.1 C219.7,172.6 226.5,172.9 236.2,173.6 C245.9,174.3 254.7,175.3 265.4,176.5 C276.1,177.7 289.7,179.9 300.5,180.9 C311.3,181.9 321.4,182.3 330.0,182.3 C338.6,182.3 346.4,180.4 351.8,180.9 C357.2,181.4 358.9,183.2 362.4,185.2 C365.9,187.1 366.4,192.8 373.0,192.6 C379.6,192.4 396.9,185.5 401.7,184.1" fill="none" stroke="#000" stroke-width="1.0"/><path d="M170.1,170.9L174.3,171.1L172.3,167.4ZM200.1,171.9L204.3,172.0L202.3,168.4ZM230.0,173.3L234.2,173.5L232.3,169.8ZM259.9,176.0L264.1,176.4L262.4,172.6ZM289.7,179.5L293.9,180.1L292.2,176.3ZM319.6,181.8L323.8,182.0L321.9,178.3ZM349.5,181.0L353.7,180.8L351.4,177.3ZM376.2,191.6L380.3,190.4L377.2,187.6Z" fill="#000"/>
<path d="M236.2,194.0 C241.1,194.2 255.6,195.0 265.4,195.5 C275.1,196.0 283.9,196.6 294.7,197.0 C305.5,197.4 318.7,197.7 330.0,198.0 C341.3,198.3 350.4,200.2 362.4,199.0 C374.3,197.8 395.1,191.9 401.7,190.5" fill="none" stroke="#000" stroke-width="1.0"/><path d="M246.1,194.5L250.3,194.7L248.4,191.1ZM276.0,196.0L280.2,196.3L278.3,192.6ZM306.0,197.3L310.2,197.4L308.2,193.8ZM336.0,198.2L340.2,198.3L338.2,194.7ZM365.9,198.2L370.0,197.4L367.2,194.3ZM395.2,191.9L399.3,191.0L396.5,188.0Z" fill="#000"/>
<path d="M253.7,199.9 C260.5,201.4 282.0,205.8 294.7,208.7 C307.4,211.6 320.5,216.2 330.0,217.4 C339.5,218.6 339.3,219.1 351.8,216.0 C364.3,212.9 396.0,201.8 404.9,199.0" fill="none" stroke="#000" stroke-width="1.0"/><path d="M263.4,202.0L267.5,202.9L266.2,198.9ZM292.7,208.2L296.8,209.2L295.6,205.2ZM321.9,215.4L325.9,216.4L324.7,212.4ZM351.6,216.1L355.6,214.8L352.5,212.0ZM380.1,206.9L384.1,205.6L381.1,202.9Z" fill="#000"/>
<path d="M160.0,97.5 C165.0,99.4 180.7,106.1 190.0,109.0 C199.3,111.9 207.0,114.0 215.7,115.0 C224.4,116.0 233.7,116.0 242.0,115.0 C250.3,114.0 257.6,110.2 265.4,109.2 C273.2,108.2 280.5,108.2 288.8,109.2 C297.1,110.2 309.1,112.5 315.0,115.0 C320.9,117.5 321.5,120.6 324.0,123.9 C326.5,127.2 329.0,133.2 330.0,135.0" fill="none" stroke="#000" stroke-width="1.0"/><path d="M169.2,101.0L173.2,102.5L169.9,105.1ZM197.6,110.8L201.7,111.7L198.8,114.7ZM227.1,115.0L231.3,115.0L229.2,118.6ZM256.6,111.4L260.7,110.4L259.5,114.3ZM286.4,109.2L290.6,109.2L288.5,112.8ZM315.5,115.5L318.5,118.5L314.5,119.5Z" fill="#000"/>
<path d="M274.2,107.8 C277.6,109.0 287.9,112.3 294.7,115.0 C301.5,117.7 310.2,121.0 315.1,123.9 C320.0,126.8 322.5,131.2 324.0,132.6" fill="none" stroke="#000" stroke-width="1.0"/><path d="M283.5,111.1L287.5,112.5L284.3,115.1ZM311.4,122.3L315.2,123.9L311.9,126.4Z" fill="#000"/>
<path d="M177.7,123.9 C181.6,125.1 195.2,128.8 201.1,131.2 C206.9,133.6 210.9,137.3 212.8,138.5" fill="none" stroke="#000" stroke-width="1.0"/><path d="M187.2,126.8L191.2,128.1L188.1,130.9ZM209.9,136.7L213.5,138.9L209.8,140.8Z" fill="#000"/>
<path d="M260.4,25.0 C262.2,25.5 266.2,28.2 271.4,28.0 C276.6,27.8 283.5,24.8 291.6,24.0 C299.7,23.2 310.4,23.7 320.0,23.5 C329.6,23.3 340.0,23.1 349.0,22.6 C358.0,22.1 369.8,20.9 374.0,20.6" fill="none" stroke="#000" stroke-width="1.0"/><path d="M269.9,28.3L274.0,27.5L271.3,24.4ZM299.5,23.9L303.7,23.8L301.5,20.3ZM329.5,23.2L333.7,23.1L331.5,19.6ZM359.5,21.8L363.6,21.4L361.3,18.0Z" fill="#000"/>
<path d="M302.6,11.4 C305.5,11.3 312.6,10.3 320.0,11.0 C327.4,11.7 342.5,15.0 347.0,15.8" fill="none" stroke="#000" stroke-width="1.0"/><path d="M312.5,11.2L316.7,11.1L314.5,7.6ZM342.1,14.9L346.3,15.7L344.8,11.8Z" fill="#000"/>
<path d="M335.5,36.1 C341.1,35.7 363.8,34.2 369.4,33.8" fill="none" stroke="#000" stroke-width="1.0"/><path d="M345.4,35.4L349.6,35.1L347.2,31.7Z" fill="#000"/>
<path d="M330.4,133.9 C333.2,134.8 340.8,137.6 347.3,139.2 C353.8,140.8 363.8,142.3 369.6,143.3 C375.4,144.3 378.4,144.3 382.1,145.0 C385.8,145.7 390.4,147.2 392.0,147.7" fill="none" stroke="#000" stroke-width="1.0"/><path d="M344.6,138.4L348.6,139.6L347.7,135.6ZM378.0,144.4L382.2,145.0L380.6,141.2Z" fill="#000"/>
<path d="M253.7,242.3 C260.5,244.0 282.0,250.6 294.7,252.5 C307.4,254.4 320.5,254.4 330.0,254.0 C339.5,253.6 346.0,250.3 351.8,250.0 C357.6,249.7 362.5,251.7 364.6,252.0" fill="none" stroke="#000" stroke-width="1.0"/><path d="M263.3,244.7L267.4,245.7L266.2,241.7ZM292.4,251.9L296.5,252.9L295.3,249.0ZM322.3,253.7L326.5,253.9L324.6,250.2ZM352.0,250.0L356.1,250.7L354.6,246.8Z" fill="#000"/>
<path d="M421.9,216.0 C426.1,216.9 435.9,219.0 447.3,221.3 C458.7,223.6 479.3,227.9 490.0,229.7 C500.7,231.5 508.1,231.7 511.7,232.1" fill="none" stroke="#000" stroke-width="1.0"/><path d="M431.6,218.0L435.7,218.9L434.4,215.0ZM461.0,224.0L465.1,224.8L463.7,220.9ZM490.4,229.7L494.6,230.2L492.9,226.4Z" fill="#000"/>
<path d="M419.7,227.6 C422.2,228.7 430.0,230.8 434.6,234.0 C439.2,237.2 441.6,242.8 447.3,246.7 C453.0,250.6 463.7,254.8 468.6,257.3 C473.6,259.8 475.6,260.9 477.0,261.6" fill="none" stroke="#000" stroke-width="1.0"/><path d="M428.8,231.5L432.7,233.2L429.3,235.6ZM452.4,249.2L456.2,251.1L452.7,253.4Z" fill="#000"/>
<path d="M473.0,44.8 C477.5,46.1 492.3,50.1 500.0,52.6 C507.7,55.1 515.8,58.8 519.0,60.0" fill="none" stroke="#000" stroke-width="1.0"/><path d="M482.5,47.5L486.5,48.7L483.5,51.6ZM511.0,56.9L514.9,58.4L511.7,61.0Z" fill="#000"/>
<path d="M447.9,61.3 C451.8,62.3 464.6,64.5 471.0,67.1 C477.4,69.7 481.8,73.6 486.6,76.8 C491.4,80.0 496.1,83.8 500.0,86.5 C503.9,89.2 508.3,91.9 510.0,93.0" fill="none" stroke="#000" stroke-width="1.0"/><path d="M457.5,63.7L461.6,64.7L458.7,67.7ZM484.7,75.6L488.2,77.8L484.6,79.7Z" fill="#000"/>
<path d="M469.2,59.4 C474.3,60.7 494.9,65.8 500.0,67.1" fill="none" stroke="#000" stroke-width="1.0"/><path d="M478.8,61.8L482.9,62.8L480.0,65.8Z" fill="#000"/>
<path d="M447.9,104.0 C452.4,106.6 466.3,114.6 475.0,119.4 C483.7,124.2 492.5,128.7 500.0,133.0 C507.5,137.3 516.7,143.0 520.0,145.0" fill="none" stroke="#000" stroke-width="1.0"/><path d="M456.5,108.9L460.2,111.0L456.6,113.0ZM482.7,123.6L486.4,125.6L482.8,127.7ZM508.8,138.3L512.4,140.4L508.8,142.4Z" fill="#000"/>
<path d="M519.0,38.0 C523.8,40.1 539.3,47.8 548.0,50.7 C556.7,53.6 567.5,54.7 571.4,55.5" fill="none" stroke="#000" stroke-width="1.0"/><path d="M528.1,42.0L531.9,43.7L528.6,46.1ZM556.1,52.4L560.2,53.2L557.4,56.3Z" fill="#000"/>
<path d="M490.0,41.0 C491.9,41.8 496.6,43.0 501.6,45.8 C506.6,48.6 516.9,56.0 520.0,58.0" fill="none" stroke="#000" stroke-width="1.0"/><path d="M499.1,44.8L503.0,46.4L499.7,48.9Z" fill="#000"/>
<path d="M490.0,65.2 C493.2,66.2 502.9,68.4 509.4,71.0 C515.9,73.6 521.4,77.8 528.8,80.7 C536.2,83.6 546.9,87.6 554.0,88.4 C561.1,89.2 565.9,85.5 571.4,85.5 C576.9,85.5 579.5,87.9 586.9,88.4 C594.3,88.9 609.5,86.6 616.0,88.4 C622.5,90.2 624.0,97.3 625.6,99.1" fill="none" stroke="#000" stroke-width="1.0"/><path d="M499.5,68.0L503.5,69.2L500.5,72.1ZM526.9,80.1L530.9,81.3L527.8,84.1ZM555.6,88.1L559.7,87.4L558.2,91.3ZM585.1,88.4L589.3,88.4L587.2,92.0ZM615.4,87.7L618.2,90.9L614.1,91.7Z" fill="#000"/>
<path d="M490.0,82.6 C493.2,84.0 503.9,88.1 509.4,91.3 C514.9,94.5 519.5,98.9 523.0,102.0 C526.5,105.1 529.4,108.5 530.7,109.8" fill="none" stroke="#000" stroke-width="1.0"/><path d="M499.0,86.7L502.9,88.4L499.5,90.8ZM523.9,102.9L526.9,105.9L522.9,107.0Z" fill="#000"/>
<path d="M567.5,65.2 C570.7,65.5 575.6,65.5 586.9,67.1 C598.2,68.7 627.2,73.6 635.3,74.9" fill="none" stroke="#000" stroke-width="1.0"/><path d="M577.4,66.2L581.5,66.6L579.8,62.8ZM607.0,70.3L611.2,71.0L609.7,67.2Z" fill="#000"/>
<path d="M590.8,72.9 C595.0,74.2 607.9,77.5 616.0,80.7 C624.1,83.9 635.3,90.4 639.2,92.3" fill="none" stroke="#000" stroke-width="1.0"/><path d="M600.3,75.8L604.3,77.1L601.2,79.9ZM628.1,86.7L631.8,88.6L628.4,90.9Z" fill="#000"/>
<path d="M579.1,94.3 C585.2,94.8 607.6,96.1 616.0,97.2 C624.4,98.3 627.2,100.4 629.5,101.0" fill="none" stroke="#000" stroke-width="1.0"/><path d="M589.0,95.1L593.2,95.4L591.3,91.7ZM618.8,98.0L622.8,99.1L621.8,95.1Z" fill="#000"/>
<path d="M652.0,11.5 C655.3,12.0 668.7,14.0 672.0,14.5" fill="none" stroke="#000" stroke-width="1.0"/><path d="M661.8,13.0L665.9,13.6L664.4,9.7Z" fill="#000"/>
<path d="M676.0,11.0 C679.3,11.6 692.7,13.9 696.0,14.5" fill="none" stroke="#000" stroke-width="1.0"/><path d="M685.8,12.7L689.9,13.4L688.4,9.6Z" fill="#000"/>
<path d="M740.0,13.5 C743.7,14.6 758.3,18.9 762.0,20.0" fill="none" stroke="#000" stroke-width="1.0"/><path d="M751.4,16.9L755.4,18.1L754.4,14.0Z" fill="#000"/>
<path d="M449.8,96.2 C454.0,98.8 468.5,107.9 475.0,111.7 C481.5,115.5 483.9,116.2 489.0,118.8 C494.1,121.4 500.6,124.0 505.8,127.2 C511.0,130.4 514.8,135.0 520.0,138.1 C525.2,141.2 531.4,142.7 537.0,145.7 C542.6,148.7 548.8,152.2 553.9,155.9 C559.0,159.6 563.2,163.2 567.4,167.7 C571.6,172.2 577.3,180.4 579.3,183.0" fill="none" stroke="#000" stroke-width="1.0"/><path d="M458.2,101.4L461.8,103.6L461.9,99.4ZM484.2,116.4L487.9,118.3L487.7,114.1ZM510.4,130.8L513.8,133.3L514.3,129.2ZM536.4,145.3L540.0,147.5L540.1,143.4ZM561.1,162.2L564.3,165.0L565.0,160.9Z" fill="#000"/>
<path d="M510.0,88.0 C512.5,90.0 519.1,96.3 525.0,100.0 C530.9,103.7 540.6,106.8 545.4,110.2 C550.2,113.6 550.8,117.2 553.9,120.3 C557.0,123.4 559.8,125.7 564.0,128.8 C568.2,131.9 573.9,134.5 579.3,139.0 C584.7,143.5 592.0,150.6 596.2,155.9 C600.4,161.2 602.5,166.4 604.7,171.1 C607.0,175.8 608.9,181.7 609.7,183.8" fill="none" stroke="#000" stroke-width="1.0"/><path d="M517.7,94.2L521.0,96.8L521.6,92.7ZM543.5,109.3L547.3,111.1L547.0,107.0ZM565.2,129.6L568.7,132.0L569.0,127.8ZM588.6,148.3L591.5,151.2L592.6,147.2ZM605.4,172.8L606.9,176.7L609.4,173.4Z" fill="#000"/>
<path d="M545.4,122.9 C548.2,124.0 556.6,126.5 562.3,129.6 C567.9,132.7 573.6,137.7 579.3,141.5 C584.9,145.3 590.6,148.7 596.2,152.5 C601.8,156.3 608.3,160.6 613.1,164.3 C617.9,168.0 621.9,171.2 625.0,174.5 C628.1,177.8 630.6,182.2 631.7,183.8" fill="none" stroke="#000" stroke-width="1.0"/><path d="M554.6,126.5L558.5,128.1L557.9,124.0ZM580.1,142.0L583.6,144.3L583.8,140.2ZM605.1,158.7L608.5,161.1L608.8,157.0ZM627.6,178.2L630.1,181.6L631.8,177.8Z" fill="#000"/>
<path d="M578.4,116.1 C580.5,116.1 585.3,114.8 591.1,116.1 C596.9,117.4 606.6,120.7 613.1,123.7 C619.6,126.7 624.6,130.1 630.1,133.9 C635.6,137.7 643.4,144.5 646.1,146.6" fill="none" stroke="#000" stroke-width="1.0"/><path d="M588.3,116.1L592.5,116.1L590.4,112.5ZM616.5,125.7L620.1,127.9L620.1,123.7ZM641.1,142.7L644.4,145.3L645.0,141.2Z" fill="#000"/>
<path d="M569.1,125.4 C570.8,125.7 575.6,125.7 579.3,127.1 C583.0,128.5 586.9,131.9 591.1,133.9 C595.3,135.9 602.4,138.1 604.7,138.9" fill="none" stroke="#000" stroke-width="1.0"/><path d="M574.9,126.4L579.1,127.1L577.6,123.2ZM591.0,133.9L595.0,135.3L594.2,131.3Z" fill="#000"/>
<path d="M537.0,125.4 C539.8,126.5 548.8,129.4 553.9,132.2 C559.0,135.0 564.0,139.5 567.4,142.3 C570.8,145.1 573.1,148.0 574.2,149.1" fill="none" stroke="#000" stroke-width="1.0"/><path d="M542.5,127.6L546.4,129.2L545.8,125.1ZM558.5,135.6L561.8,138.1L562.3,134.0ZM572.2,147.1L575.2,150.1L576.2,146.1Z" fill="#000"/>
<path d="M542.0,128.8 C544.5,130.5 553.3,135.3 557.3,139.0 C561.2,142.7 563.2,146.3 565.7,150.8 C568.2,155.3 571.4,163.5 572.5,166.0" fill="none" stroke="#000" stroke-width="1.0"/><path d="M546.9,132.1L550.4,134.4L550.6,130.3ZM560.5,143.5L562.9,146.9L564.6,143.1ZM569.4,159.0L571.1,162.9L573.5,159.5Z" fill="#000"/>
<path d="M542.0,157.6 C544.0,158.7 550.5,161.5 553.9,164.3 C557.3,167.1 559.9,171.2 562.3,174.5 C564.7,177.8 567.3,182.2 568.3,183.8" fill="none" stroke="#000" stroke-width="1.0"/><path d="M547.1,160.5L550.8,162.6L550.7,158.4ZM560.4,172.2L563.1,175.4L564.5,171.6Z" fill="#000"/>
<path d="M170.8,171.2L178.0,178.4L170.8,185.6L163.6,178.4Z" fill="#f58af0" stroke="#fff" stroke-width="1"/>
<path d="M185.2,187.5L192.4,194.7L185.2,201.9L178.0,194.7Z" fill="#f58af0" stroke="#fff" stroke-width="1"/>
<path d="M233.4,163.1L240.6,170.3L233.4,177.5L226.2,170.3Z" fill="#f58af0" stroke="#fff" stroke-width="1"/>
<path d="M233.0,188.2L240.2,195.4L233.0,202.6L225.8,195.4Z" fill="#f58af0" stroke="#fff" stroke-width="1"/>
<path d="M287.3,178.8L294.5,186.0L287.3,193.2L280.1,186.0Z" fill="#f58af0" stroke="#fff" stroke-width="1"/>
<path d="M414.8,129.8L422.0,137.0L414.8,144.2L407.6,137.0Z" fill="#f58af0" stroke="#fff" stroke-width="1"/>
<path d="M419.3,187.5L426.5,194.7L419.3,201.9L412.1,194.7Z" fill="#f58af0" stroke="#fff" stroke-width="1"/>
<path d="M506.3,110.5L513.5,117.7L506.3,124.9L499.1,117.7Z" fill="#f58af0" stroke="#fff" stroke-width="1"/>
<path d="M508.0,165.3L515.2,172.5L508.0,179.7L500.8,172.5Z" fill="#f58af0" stroke="#fff" stroke-width="1"/>
<circle cx="185.4" cy="117.0" r="5.6" fill="#7a08ee" stroke="#fff" stroke-width="1"/>
<circle cx="171.2" cy="126.2" r="5.6" fill="#7a08ee" stroke="#fff" stroke-width="1"/>
<circle cx="233.5" cy="149.0" r="5.6" fill="#7a08ee" stroke="#fff" stroke-width="1"/>
<circle cx="233.0" cy="146.5" r="5.6" fill="#7a08ee" stroke="#fff" stroke-width="1"/>
<circle cx="162.0" cy="169.5" r="5.6" fill="#7a08ee" stroke="#fff" stroke-width="1"/>
<circle cx="215.3" cy="195.8" r="5.6" fill="#7a08ee" stroke="#fff" stroke-width="1"/>
<circle cx="182.4" cy="209.6" r="5.6" fill="#7a08ee" stroke="#fff" stroke-width="1"/>
<circle cx="287.3" cy="151.5" r="5.6" fill="#7a08ee" stroke="#fff" stroke-width="1"/>
<circle cx="412.0" cy="99.9" r="5.6" fill="#7a08ee" stroke="#fff" stroke-width="1"/>
<circle cx="413.2" cy="109.3" r="5.6" fill="#7a08ee" stroke="#fff" stroke-width="1"/>
<circle cx="419.8" cy="111.0" r="5.6" fill="#7a08ee" stroke="#fff" stroke-width="1"/>
<circle cx="506.0" cy="138.5" r="5.6" fill="#7a08ee" stroke="#fff" stroke-width="1"/>
<circle cx="508.0" cy="136.0" r="5.6" fill="#7a08ee" stroke="#fff" stroke-width="1"/>
<path d="M474.9,69.6L476.9,74.8L482.5,75.1L478.1,78.7L479.6,84.1L474.9,81.0L470.2,84.1L471.7,78.7L467.3,75.1L472.9,74.8Z" fill="#e0138c" stroke="#fff" stroke-width="1"/>
</svg>
<text x="307.5" y="106.9" font-size="14.5" font-style="italic" fill="#231f20" stroke="#fff" stroke-width="3.2" paint-order="stroke" stroke-linejoin="round" letter-spacing="1.25">Puruo Gangri</text>
<text x="444.8" y="152.2" font-size="14.5" font-style="italic" fill="#231f20" stroke="#fff" stroke-width="3.2" paint-order="stroke" stroke-linejoin="round" letter-spacing="1.25">Geladandong</text>
<text x="761" y="36.3" font-size="24" font-weight="bold" text-anchor="end" fill="#231f20" stroke="#fff" stroke-width="4" paint-order="stroke" stroke-linejoin="round" letter-spacing="1">25-20 Ma</text>
<text x="477.5" y="64.5" font-size="13.5" font-weight="bold" fill="#c8158a" stroke="#fff" stroke-width="2" paint-order="stroke" stroke-linejoin="round" letter-spacing="0.5">Granulite xenoliths(23-13 Ma)</text>
<rect x="739" y="235" width="26" height="29" fill="#fff" stroke="#231f20" stroke-width="1"/>
<text x="752" y="257" font-size="21" text-anchor="middle" fill="#231f20">A</text>
</g>
<text x="187.15" y="298" font-size="22" text-anchor="middle" fill="#231f20" letter-spacing="1.5">84°E</text>
<text x="366.15" y="298" font-size="22" text-anchor="middle" fill="#231f20" letter-spacing="1.5">88°E</text>
<text x="545.15" y="298" font-size="22" text-anchor="middle" fill="#231f20" letter-spacing="1.5">92°E</text>
<text x="724.15" y="298" font-size="22" text-anchor="middle" fill="#231f20" letter-spacing="1.5">96°E</text>
<text x="400.8" y="316.7" font-size="22" font-weight="bold" text-anchor="middle" fill="#231f20" letter-spacing="1.25">Longitude</text>
<text x="78.5" y="112.8" font-size="22" text-anchor="end" fill="#231f20" letter-spacing="1.5">34°N</text>
<text x="78.5" y="219.1" font-size="22" text-anchor="end" fill="#231f20" letter-spacing="1.5">32°N</text>
<text transform="translate(16.5,155) rotate(-90)" font-size="23" font-weight="bold" text-anchor="middle" fill="#231f20" letter-spacing="0.35">Latitude</text>
<g transform="translate(0,328)">
<rect x="80.5" y="0.5" width="694" height="272" fill="#fff" stroke="#666" stroke-width="1"/>
<rect x="180" y="1" width="90" height="7.5" fill="#000"/>
<rect x="180" y="264.5" width="90" height="7.5" fill="#000"/>
<rect x="360" y="1" width="90" height="7.5" fill="#000"/>
<rect x="360" y="264.5" width="90" height="7.5" fill="#000"/>
<rect x="540" y="1" width="90" height="7.5" fill="#000"/>
<rect x="540" y="264.5" width="90" height="7.5" fill="#000"/>
<rect x="720" y="1" width="45.5" height="7.5" fill="#000"/>
<rect x="720" y="264.5" width="45.5" height="7.5" fill="#000"/>
<rect x="81" y="104" width="8.5" height="106" fill="#000"/>
<rect x="765.5" y="104" width="8.5" height="106" fill="#000"/>
<path d="M89.5,0.5V272.5M765.5,0.5V272.5M80.5,8.5H774.5M80.5,264.5H774.5" stroke="#222" stroke-width="1" fill="none"/>
<svg x="90" y="9" width="675.5" height="255.5" viewBox="90 9 675.5 255.5" overflow="hidden">
<rect x="90" y="9" width="676" height="256" fill="#808080"/>
<clipPath id="clipB"><path d="M181.0,90.4 C186.0,90.0 191.0,91.2 196.0,92.0 C201.0,92.8 206.3,92.0 211.0,95.0 C215.7,98.0 221.2,106.3 224.0,109.8 C226.8,113.3 225.5,114.7 227.7,116.2 C229.9,117.7 233.6,117.3 237.0,119.0 C240.4,120.7 244.9,123.3 248.0,126.4 C251.1,129.5 253.8,133.8 255.4,137.5 C256.9,141.2 257.6,145.5 257.3,148.6 C257.0,151.7 255.4,153.7 253.6,156.0 C251.8,158.3 249.0,160.7 246.2,162.4 C243.4,164.1 239.8,164.9 237.0,166.1 C234.2,167.3 231.0,168.3 229.6,169.5 C228.2,170.7 228.2,171.6 228.5,173.0 C228.8,174.4 230.3,175.9 231.4,178.0 C232.5,180.1 234.1,183.0 235.0,185.5 C235.9,188.0 237.0,190.4 237.0,192.9 C237.0,195.4 236.6,197.5 235.0,200.3 C233.4,203.1 229.9,206.2 227.7,209.5 C225.5,212.8 222.8,216.2 222.0,220.0 C221.2,223.8 222.7,228.2 223.0,232.0 C223.3,235.8 224.7,239.3 224.0,243.0 C223.3,246.7 221.0,251.2 219.0,254.0 C217.0,256.8 213.7,258.0 212.0,260.0 C210.3,262.0 211.0,265.0 209.0,266.0 C207.0,267.0 201.8,267.0 200.0,266.0 C198.2,265.0 200.0,261.8 198.0,260.0 C196.0,258.2 191.0,258.0 188.0,255.5 C185.0,253.0 181.8,248.9 180.0,245.0 C178.2,241.1 179.3,235.5 177.0,232.0 C174.7,228.5 168.8,226.7 166.0,224.0 C163.2,221.3 161.8,219.0 160.5,216.0 C159.2,213.0 158.5,209.5 158.0,206.0 C157.5,202.5 159.2,198.1 157.5,195.0 C155.8,191.9 151.2,189.8 148.0,187.5 C144.8,185.2 141.0,183.4 138.0,181.0 C135.0,178.6 131.9,175.5 130.0,173.0 C128.1,170.5 126.9,168.6 126.5,166.0 C126.1,163.4 126.3,160.2 127.5,157.5 C128.7,154.8 130.4,151.9 133.5,149.6 C136.6,147.3 143.1,145.5 145.8,143.5 C148.6,141.5 150.1,140.1 150.0,137.5 C149.9,134.9 146.1,131.1 145.0,128.0 C143.9,124.9 143.4,122.1 143.5,118.8 C143.6,115.5 144.1,111.1 145.8,108.0 C147.5,104.9 150.2,102.7 153.5,100.4 C156.8,98.1 161.2,95.9 165.8,94.2 C170.4,92.5 176.0,90.8 181.0,90.4 Z M264.2,147.3a28.6,24.5 0 1,0 57.2,0a28.6,24.5 0 1,0 -57.2,0Z M299,198.5a28,28 0 1,0 56,0a28,28 0 1,0 -56,0Z M327.6,139.5 C329.0,135.1 332.6,126.8 337.0,123.4 C341.4,120.0 348.3,120.1 353.9,119.2 C359.5,118.3 365.7,118.0 370.8,117.8 C375.9,117.6 380.9,118.6 384.3,118.3 C387.7,118.0 388.9,115.3 391.0,115.8 C393.1,116.2 395.0,118.2 397.0,121.0 C399.0,123.8 402.0,128.8 403.0,132.7 C404.0,136.6 403.9,140.9 403.0,144.6 C402.1,148.3 400.4,151.6 397.9,154.7 C395.3,157.8 392.2,161.1 387.7,163.2 C383.2,165.3 376.4,167.1 370.8,167.4 C365.2,167.7 359.5,166.5 353.9,164.9 C348.3,163.3 341.2,160.7 337.0,158.1 C332.8,155.5 330.1,152.7 328.5,149.6 C326.9,146.5 326.2,143.9 327.6,139.5 Z M419.7,244a26.3,26.3 0 1,0 52.6,0a26.3,26.3 0 1,0 -52.6,0Z M525.0,117.0 C526.4,115.8 527.7,118.8 530.2,118.6 C532.8,118.4 536.3,116.9 540.3,116.1 C544.2,115.2 549.4,113.5 553.9,113.5 C558.4,113.5 563.7,113.5 567.4,116.1 C571.1,118.6 574.6,124.4 575.9,128.8 C577.2,133.2 574.4,138.4 575.0,142.3 C575.6,146.2 576.6,150.5 579.3,152.5 C582.0,154.5 587.1,152.8 591.1,154.2 C595.1,155.6 600.2,157.9 603.0,161.0 C605.8,164.1 607.7,168.9 608.0,172.8 C608.3,176.8 606.9,181.0 604.7,184.7 C602.5,188.4 599.2,191.9 594.6,195.2 C590.0,198.5 581.1,202.1 577.2,204.7 C573.3,207.3 572.0,208.1 571.0,211.0 C570.0,213.9 573.1,217.8 571.0,222.0 C568.9,226.2 564.4,233.0 558.3,236.2 C552.2,239.4 542.1,240.6 534.6,241.0 C527.1,241.4 518.3,239.2 513.0,238.5 C507.7,237.8 507.0,238.2 503.0,237.0 C499.0,235.8 493.3,234.3 489.0,231.0 C484.7,227.7 478.2,221.7 477.0,217.3 C475.8,212.9 479.2,208.0 482.0,204.7 C484.8,201.4 489.1,199.9 493.8,197.5 C498.6,195.1 505.3,193.6 510.5,190.4 C515.7,187.2 521.3,182.5 524.9,178.5 C528.5,174.5 531.2,170.1 532.0,166.5 C532.8,162.9 531.2,159.8 529.6,157.0 C528.0,154.2 524.0,153.0 522.5,149.9 C521.0,146.8 520.5,142.2 520.4,138.2 C520.3,134.2 521.2,129.5 522.0,126.0 C522.8,122.5 523.6,118.2 525.0,117.0 Z M723,203.6a21,21 0 1,0 42,0a21,21 0 1,0 -42,0Z M752,196a9,11 0 1,0 18,0a9,11 0 1,0 -18,0Z M396.0,98.0 C397.3,94.2 398.5,91.2 401.0,89.0 C403.5,86.8 407.2,84.9 411.0,84.5 C414.8,84.1 420.2,85.1 424.0,86.5 C427.8,87.9 431.5,90.1 434.0,93.0 C436.5,95.9 438.5,100.3 439.0,104.0 C439.5,107.7 438.5,111.7 437.0,115.0 C435.5,118.3 433.2,121.8 430.0,124.0 C426.8,126.2 422.0,127.5 418.0,128.0 C414.0,128.5 409.3,128.2 406.0,127.0 C402.7,125.8 400.2,123.5 398.0,121.0 C395.8,118.5 393.3,115.8 393.0,112.0 C392.7,108.2 394.7,101.8 396.0,98.0 Z"/></clipPath>
<g clip-path="url(#clipB)">
<g filter="url(#blobcol)"><path d="M181.0,90.4 C186.0,90.0 191.0,91.2 196.0,92.0 C201.0,92.8 206.3,92.0 211.0,95.0 C215.7,98.0 221.2,106.3 224.0,109.8 C226.8,113.3 225.5,114.7 227.7,116.2 C229.9,117.7 233.6,117.3 237.0,119.0 C240.4,120.7 244.9,123.3 248.0,126.4 C251.1,129.5 253.8,133.8 255.4,137.5 C256.9,141.2 257.6,145.5 257.3,148.6 C257.0,151.7 255.4,153.7 253.6,156.0 C251.8,158.3 249.0,160.7 246.2,162.4 C243.4,164.1 239.8,164.9 237.0,166.1 C234.2,167.3 231.0,168.3 229.6,169.5 C228.2,170.7 228.2,171.6 228.5,173.0 C228.8,174.4 230.3,175.9 231.4,178.0 C232.5,180.1 234.1,183.0 235.0,185.5 C235.9,188.0 237.0,190.4 237.0,192.9 C237.0,195.4 236.6,197.5 235.0,200.3 C233.4,203.1 229.9,206.2 227.7,209.5 C225.5,212.8 222.8,216.2 222.0,220.0 C221.2,223.8 222.7,228.2 223.0,232.0 C223.3,235.8 224.7,239.3 224.0,243.0 C223.3,246.7 221.0,251.2 219.0,254.0 C217.0,256.8 213.7,258.0 212.0,260.0 C210.3,262.0 211.0,265.0 209.0,266.0 C207.0,267.0 201.8,267.0 200.0,266.0 C198.2,265.0 200.0,261.8 198.0,260.0 C196.0,258.2 191.0,258.0 188.0,255.5 C185.0,253.0 181.8,248.9 180.0,245.0 C178.2,241.1 179.3,235.5 177.0,232.0 C174.7,228.5 168.8,226.7 166.0,224.0 C163.2,221.3 161.8,219.0 160.5,216.0 C159.2,213.0 158.5,209.5 158.0,206.0 C157.5,202.5 159.2,198.1 157.5,195.0 C155.8,191.9 151.2,189.8 148.0,187.5 C144.8,185.2 141.0,183.4 138.0,181.0 C135.0,178.6 131.9,175.5 130.0,173.0 C128.1,170.5 126.9,168.6 126.5,166.0 C126.1,163.4 126.3,160.2 127.5,157.5 C128.7,154.8 130.4,151.9 133.5,149.6 C136.6,147.3 143.1,145.5 145.8,143.5 C148.6,141.5 150.1,140.1 150.0,137.5 C149.9,134.9 146.1,131.1 145.0,128.0 C143.9,124.9 143.4,122.1 143.5,118.8 C143.6,115.5 144.1,111.1 145.8,108.0 C147.5,104.9 150.2,102.7 153.5,100.4 C156.8,98.1 161.2,95.9 165.8,94.2 C170.4,92.5 176.0,90.8 181.0,90.4 Z M264.2,147.3a28.6,24.5 0 1,0 57.2,0a28.6,24.5 0 1,0 -57.2,0Z M299,198.5a28,28 0 1,0 56,0a28,28 0 1,0 -56,0Z M327.6,139.5 C329.0,135.1 332.6,126.8 337.0,123.4 C341.4,120.0 348.3,120.1 353.9,119.2 C359.5,118.3 365.7,118.0 370.8,117.8 C375.9,117.6 380.9,118.6 384.3,118.3 C387.7,118.0 388.9,115.3 391.0,115.8 C393.1,116.2 395.0,118.2 397.0,121.0 C399.0,123.8 402.0,128.8 403.0,132.7 C404.0,136.6 403.9,140.9 403.0,144.6 C402.1,148.3 400.4,151.6 397.9,154.7 C395.3,157.8 392.2,161.1 387.7,163.2 C383.2,165.3 376.4,167.1 370.8,167.4 C365.2,167.7 359.5,166.5 353.9,164.9 C348.3,163.3 341.2,160.7 337.0,158.1 C332.8,155.5 330.1,152.7 328.5,149.6 C326.9,146.5 326.2,143.9 327.6,139.5 Z M419.7,244a26.3,26.3 0 1,0 52.6,0a26.3,26.3 0 1,0 -52.6,0Z M525.0,117.0 C526.4,115.8 527.7,118.8 530.2,118.6 C532.8,118.4 536.3,116.9 540.3,116.1 C544.2,115.2 549.4,113.5 553.9,113.5 C558.4,113.5 563.7,113.5 567.4,116.1 C571.1,118.6 574.6,124.4 575.9,128.8 C577.2,133.2 574.4,138.4 575.0,142.3 C575.6,146.2 576.6,150.5 579.3,152.5 C582.0,154.5 587.1,152.8 591.1,154.2 C595.1,155.6 600.2,157.9 603.0,161.0 C605.8,164.1 607.7,168.9 608.0,172.8 C608.3,176.8 606.9,181.0 604.7,184.7 C602.5,188.4 599.2,191.9 594.6,195.2 C590.0,198.5 581.1,202.1 577.2,204.7 C573.3,207.3 572.0,208.1 571.0,211.0 C570.0,213.9 573.1,217.8 571.0,222.0 C568.9,226.2 564.4,233.0 558.3,236.2 C552.2,239.4 542.1,240.6 534.6,241.0 C527.1,241.4 518.3,239.2 513.0,238.5 C507.7,237.8 507.0,238.2 503.0,237.0 C499.0,235.8 493.3,234.3 489.0,231.0 C484.7,227.7 478.2,221.7 477.0,217.3 C475.8,212.9 479.2,208.0 482.0,204.7 C484.8,201.4 489.1,199.9 493.8,197.5 C498.6,195.1 505.3,193.6 510.5,190.4 C515.7,187.2 521.3,182.5 524.9,178.5 C528.5,174.5 531.2,170.1 532.0,166.5 C532.8,162.9 531.2,159.8 529.6,157.0 C528.0,154.2 524.0,153.0 522.5,149.9 C521.0,146.8 520.5,142.2 520.4,138.2 C520.3,134.2 521.2,129.5 522.0,126.0 C522.8,122.5 523.6,118.2 525.0,117.0 Z M723,203.6a21,21 0 1,0 42,0a21,21 0 1,0 -42,0Z M752,196a9,11 0 1,0 18,0a9,11 0 1,0 -18,0Z M396.0,98.0 C397.3,94.2 398.5,91.2 401.0,89.0 C403.5,86.8 407.2,84.9 411.0,84.5 C414.8,84.1 420.2,85.1 424.0,86.5 C427.8,87.9 431.5,90.1 434.0,93.0 C436.5,95.9 438.5,100.3 439.0,104.0 C439.5,107.7 438.5,111.7 437.0,115.0 C435.5,118.3 433.2,121.8 430.0,124.0 C426.8,126.2 422.0,127.5 418.0,128.0 C414.0,128.5 409.3,128.2 406.0,127.0 C402.7,125.8 400.2,123.5 398.0,121.0 C395.8,118.5 393.3,115.8 393.0,112.0 C392.7,108.2 394.7,101.8 396.0,98.0 Z" fill="#000"/></g>
<ellipse cx="165" cy="121" rx="22" ry="13" fill="url(#g_cyan)"/>
<ellipse cx="190" cy="118" rx="16" ry="10" fill="url(#g_cyan)"/>
<ellipse cx="185" cy="128" rx="22" ry="10" fill="url(#g_cyan)"/>
<ellipse cx="233" cy="146" rx="18" ry="15" fill="url(#g_cyan)"/>
<ellipse cx="162" cy="120" rx="9" ry="6" fill="url(#g_blue)"/>
<ellipse cx="235" cy="146" rx="8" ry="7" fill="url(#g_blue)"/>
<ellipse cx="165" cy="167" rx="36" ry="16" fill="url(#g_cyan)"/>
<ellipse cx="150" cy="166" rx="14" ry="9" fill="url(#g_blue)"/>
<ellipse cx="186" cy="166" rx="15" ry="10" fill="url(#g_blue)"/>
<ellipse cx="200" cy="187" rx="30" ry="12" fill="url(#g_cyan)"/>
<ellipse cx="196" cy="212" rx="16" ry="10" fill="url(#g_cyan)"/>
<ellipse cx="202" cy="237" rx="10" ry="9" fill="url(#g_cyan)"/>
<ellipse cx="202" cy="237" rx="4" ry="4" fill="url(#g_blue)"/>
<ellipse cx="295" cy="145" rx="17" ry="14" fill="url(#g_cyan)"/>
<ellipse cx="300" cy="143" rx="8" ry="6" fill="url(#g_blue)"/>
<ellipse cx="327" cy="206" rx="20" ry="16" fill="url(#g_cyan)"/>
<ellipse cx="321" cy="207" rx="8" ry="6" fill="url(#g_blue)"/>
<ellipse cx="362" cy="141" rx="32" ry="16" fill="url(#g_cyan)"/>
<ellipse cx="367" cy="141" rx="24" ry="9" fill="url(#g_blue)"/>
<ellipse cx="372" cy="140" rx="12" ry="5" fill="url(#g_blue)"/>
<ellipse cx="447" cy="241" rx="18" ry="16" fill="url(#g_cyan)"/>
<ellipse cx="447" cy="240" rx="8" ry="7" fill="url(#g_blue)"/>
<ellipse cx="530" cy="210" rx="46" ry="26" fill="url(#g_cyan)"/>
<ellipse cx="535" cy="206" rx="25" ry="14" fill="url(#g_blue)"/>
<ellipse cx="550" cy="145" rx="18" ry="14" fill="url(#g_cyan)"/>
<ellipse cx="582" cy="182" rx="18" ry="14" fill="url(#g_cyan)"/>
<ellipse cx="562" cy="165" rx="14" ry="10" fill="url(#g_cyan)"/>
<ellipse cx="743" cy="202" rx="15" ry="13" fill="url(#g_cyan)"/>
<ellipse cx="175" cy="115" rx="20" ry="10" fill="url(#g_cyan)"/>
<ellipse cx="207" cy="126" rx="14" ry="8" fill="url(#g_cyan)"/>
<ellipse cx="216" cy="190" rx="20" ry="10" fill="url(#g_cyan)"/>
<ellipse cx="186" cy="201" rx="18" ry="10" fill="url(#g_cyan)"/>
<ellipse cx="200" cy="228" rx="16" ry="14" fill="url(#g_cyan)"/>
<ellipse cx="298" cy="148" rx="20" ry="16" fill="url(#g_cyan)"/>
<ellipse cx="447" cy="242" rx="21" ry="19" fill="url(#g_cyan)"/>
<ellipse cx="556" cy="150" rx="20" ry="17" fill="url(#g_cyan)"/>
<ellipse cx="545" cy="135" rx="10" ry="8" fill="url(#g_cyan)"/>
<ellipse cx="590" cy="178" rx="12" ry="10" fill="url(#g_cyan)"/>
<ellipse cx="212" cy="106" rx="14" ry="9" fill="url(#g_yel)"/>
<ellipse cx="215" cy="152" rx="12" ry="9" fill="url(#g_yel)"/>
<ellipse cx="205" cy="240" rx="16" ry="14" fill="url(#g_yel)"/>
<ellipse cx="190" cy="252" rx="12" ry="8" fill="url(#g_yel)"/>
<ellipse cx="536" cy="130" rx="10" ry="10" fill="url(#g_yel)"/>
<ellipse cx="488" cy="222" rx="12" ry="9" fill="url(#g_yel)"/>
<ellipse cx="365" cy="124" rx="18" ry="5" fill="url(#g_yel)"/>
<ellipse cx="598" cy="188" rx="8" ry="8" fill="url(#g_yel)"/>
<ellipse cx="140" cy="150" rx="10" ry="6" fill="url(#g_yel)"/>
<ellipse cx="172" cy="205" rx="10" ry="8" fill="url(#g_yel)"/>
<rect x="90" y="9" width="676" height="256" filter="url(#hill)" style="mix-blend-mode:soft-light"/>
</g>
<ellipse cx="201.5" cy="145" rx="4.5" ry="2.5" fill="#808080"/>
<ellipse cx="550" cy="171" rx="3" ry="2.5" fill="#808080"/>
<path d="M180,9V265M360,9V265M540,9V265M720,9V265M90,104H766M90,210H766" stroke="#d4d4d4" stroke-width="1" fill="none" opacity="0.9"/>
<path d="M90.0,43.7 C95.0,44.1 106.6,46.8 120.0,46.3 C133.4,45.8 155.4,40.6 170.6,40.6 C185.8,40.6 194.2,43.0 211.0,46.3 C227.8,49.6 254.6,59.0 271.4,60.4 C288.2,61.8 299.4,56.7 311.7,54.4 C324.0,52.1 334.1,46.9 345.2,46.8 C356.2,46.7 366.1,52.0 378.0,53.6 C389.9,55.2 406.6,56.4 416.9,56.5 C427.2,56.6 431.0,55.1 440.0,54.0 C449.0,52.9 462.7,50.4 471.0,49.7 C479.3,49.0 483.6,48.7 490.0,49.7 C496.4,50.7 499.7,52.9 509.4,55.5 C519.1,58.1 535.1,62.0 548.0,65.2 C560.9,68.4 577.2,72.5 586.9,74.9 C596.6,77.3 597.6,75.5 606.3,79.7 C614.9,83.9 628.8,93.7 638.8,100.1 C648.8,106.5 656.1,110.9 666.0,118.0 C675.9,125.1 688.0,136.4 697.9,142.8 C707.8,149.2 715.7,149.6 725.2,156.4 C734.7,163.2 748.3,175.0 754.8,183.7 C761.2,192.4 762.4,204.6 763.9,208.8" fill="none" stroke="#2b2f86" stroke-width="1.8" stroke-dasharray="6,4" stroke-linecap="butt"/>
<path d="M90.0,172.1 C94.9,173.3 109.5,176.3 119.2,179.4 C128.9,182.5 138.8,187.8 148.5,190.5 C158.2,193.2 167.9,194.0 177.7,195.5 C187.4,197.0 197.2,198.5 207.0,199.5 C216.8,200.5 226.5,200.8 236.2,201.5 C245.9,202.2 255.6,202.3 265.4,203.5 C275.1,204.7 285.6,206.8 294.7,208.7 C303.8,210.6 312.2,213.2 320.0,214.9 C327.8,216.6 334.1,219.3 341.2,219.1 C348.3,218.9 355.3,215.7 362.4,213.8 C369.5,211.9 376.6,209.3 383.7,207.5 C390.8,205.7 397.8,204.3 404.9,203.2 C412.0,202.1 419.0,201.1 426.1,201.1 C433.2,201.1 440.2,202.1 447.3,203.2 C454.4,204.3 461.5,206.4 468.6,207.5 C475.7,208.6 483.9,210.2 490.0,209.6 C496.1,209.0 500.0,205.9 505.0,204.0 C510.0,202.1 514.2,199.5 520.0,198.0 C525.8,196.5 533.3,195.0 540.0,195.0 C546.7,195.0 552.5,196.0 560.0,198.0 C567.5,200.0 578.3,204.6 585.0,207.0 C591.7,209.4 593.7,210.4 600.0,212.2 C606.3,214.0 612.2,214.7 622.8,217.9 C633.4,221.1 653.5,229.4 663.7,231.5 C673.9,233.6 677.8,229.3 684.2,230.4 C690.7,231.5 694.0,234.7 702.4,238.3 C710.8,241.9 729.0,249.7 734.3,252.0" fill="none" stroke="#2b2f86" stroke-width="1.8" stroke-dasharray="6,4" stroke-linecap="butt"/>
<path d="M128.3,18.7 C131.1,17.9 139.3,15.4 145.0,14.0 C150.7,12.6 159.7,10.7 162.6,10.0" fill="none" stroke="#e8d22a" stroke-width="1.6" stroke-linecap="butt"/>
<path d="M276.4,47.3 C280.3,46.4 292.7,43.6 300.0,42.0 C307.3,40.4 313.4,39.0 320.0,37.7 C326.6,36.4 332.6,35.8 339.4,34.2 C346.2,32.7 356.3,30.7 360.7,28.4 C365.1,26.1 364.7,21.9 365.5,20.6" fill="none" stroke="#e8d22a" stroke-width="1.6" stroke-linecap="butt"/>
<path d="M627.0,11.9 C632.2,12.9 648.9,15.6 658.0,17.7 C667.1,19.8 675.2,21.1 681.4,24.5 C687.6,27.9 690.5,34.1 695.0,38.0 C699.5,41.9 703.7,44.9 708.5,47.8 C713.3,50.7 716.6,52.3 724.0,55.5 C731.4,58.7 748.2,65.2 753.0,67.2" fill="none" stroke="#e8d22a" stroke-width="1.6" stroke-linecap="butt"/>
<path d="M724.0,10.0 C730.8,11.1 758.0,15.7 764.8,16.8" fill="none" stroke="#e8d22a" stroke-width="1.6" stroke-linecap="butt"/>
<path d="M334.9,235.0 C339.5,236.8 355.7,242.5 362.4,245.7 C369.1,248.9 370.9,251.2 375.2,254.2 C379.4,257.2 385.8,262.1 387.9,263.7" fill="none" stroke="#e8d22a" stroke-width="1.6" stroke-linecap="butt"/>
<path d="M227.4,194.0 C231.8,192.6 242.5,189.7 253.7,185.3 C264.9,180.9 285.3,171.9 294.7,167.7 C304.1,163.5 307.4,161.3 310.0,160.0" fill="none" stroke="#e8d22a" stroke-width="1.6" stroke-linecap="butt"/>
<path d="M482.0,247.0 C485.0,247.8 494.5,250.2 500.0,252.0 C505.5,253.8 510.0,256.0 515.0,258.0 C520.0,260.0 527.5,263.0 530.0,264.0" fill="none" stroke="#e8d22a" stroke-width="1.6" stroke-linecap="butt"/>
<path d="M755.0,150.0 C756.8,151.7 764.2,158.3 766.0,160.0" fill="none" stroke="#e8d22a" stroke-width="1.6" stroke-linecap="butt"/>
<path d="M201.0,121.0 C202.5,121.7 208.5,124.6 210.0,125.3" fill="none" stroke="#e8d22a" stroke-width="1.6" stroke-linecap="butt"/>
<path d="M306.9,41.5L317.5,38.6L315.1,41.8M316.7,35.5L306.1,38.4L308.5,35.2" fill="none" stroke="#e8d22a" stroke-width="1.1"/>
<path d="M252.1,187.9L262.4,184.1L260.2,187.5M261.3,181.1L251.0,184.9L253.2,181.5" fill="none" stroke="#e8d22a" stroke-width="1.1"/>
<path d="M466.5,181.1L477.4,179.6L474.5,182.4M476.9,176.5L466.0,178.0L468.9,175.2" fill="none" stroke="#e8d22a" stroke-width="1.1"/>
<path d="M463.3,219.8L474.1,217.9L471.4,220.8M473.5,214.8L462.7,216.7L465.4,213.8" fill="none" stroke="#e8d22a" stroke-width="1.1"/>
<path d="M492.7,248.1L502.7,252.8L498.8,253.6M504.1,249.9L494.1,245.2L498.0,244.4" fill="none" stroke="#e8d22a" stroke-width="1.1"/>
<path d="M693.5,39.2L702.5,45.5L698.5,45.6M704.3,42.8L695.3,36.5L699.3,36.4" fill="none" stroke="#e8d22a" stroke-width="1.1"/>
<path d="M346.1,240.5L356.1,245.2L352.2,246.0M357.5,242.3L347.5,237.6L351.4,236.8" fill="none" stroke="#e8d22a" stroke-width="1.1"/>
<path d="M114.6,178.7L123.0,185.8L119.0,185.5M125.0,183.3L116.6,176.2L120.6,176.5" fill="none" stroke="#e8d22a" stroke-width="1.1"/>
<path d="M95.5,189.2L103.9,196.3L99.9,196.0M105.9,193.8L97.5,186.7L101.5,187.0" fill="none" stroke="#e8d22a" stroke-width="1.1"/>
<path d="M424.0,191.5 C427.9,190.4 439.9,187.1 447.3,185.2 C454.7,183.3 461.5,181.1 468.6,179.9 C475.7,178.7 483.1,179.3 490.0,177.8 C496.9,176.3 504.2,173.1 510.0,171.0 C515.8,168.9 522.5,166.0 525.0,165.0" fill="none" stroke="#e8d22a" stroke-width="1.1" stroke-dasharray="3,2" stroke-linecap="butt"/>
<path d="M90.0,153.0 C91.5,155.4 95.9,162.8 98.8,167.7 C101.7,172.6 104.1,178.4 107.5,182.3 C110.9,186.2 117.2,189.6 119.2,191.0" fill="none" stroke="#e8d22a" stroke-width="1.1" stroke-dasharray="3,2" stroke-linecap="butt"/>
<path d="M90.0,170.6 C91.7,172.7 96.1,178.6 100.0,183.0 C103.9,187.4 109.2,193.3 113.4,197.0 C117.6,200.7 123.1,203.7 125.0,205.0" fill="none" stroke="#e8d22a" stroke-width="1.1" stroke-dasharray="3,2" stroke-linecap="butt"/>
<path d="M458.0,250.0 C460.0,249.5 468.0,247.5 470.0,247.0" fill="none" stroke="#e8d22a" stroke-width="1.1" stroke-dasharray="3,2" stroke-linecap="butt"/>
<path d="M109.0,60.4 C110.0,59.7 112.8,57.4 115.0,56.0 C117.2,54.6 121.1,52.9 122.3,52.3" fill="none" stroke="#d8312c" stroke-width="1.0" stroke-dasharray="3,2" stroke-linecap="butt"/>
<circle cx="113.8" cy="56.9" r="1.7" fill="#d8312c"/>
<path d="M128.3,63.4 C128.3,64.8 128.4,69.0 128.5,72.0 C128.6,75.0 128.7,80.0 128.7,81.6" fill="none" stroke="#d8312c" stroke-width="1.0" stroke-dasharray="3,2" stroke-linecap="butt"/>
<circle cx="128.4" cy="69.4" r="1.7" fill="#d8312c"/>
<path d="M154.5,61.4 C154.6,62.8 154.8,67.0 154.8,70.0 C154.8,73.0 154.6,78.0 154.5,79.6" fill="none" stroke="#d8312c" stroke-width="1.0" stroke-dasharray="3,2" stroke-linecap="butt"/>
<circle cx="154.7" cy="67.4" r="1.7" fill="#d8312c"/>
<path d="M192.8,69.5 C192.4,70.9 191.2,75.3 190.5,78.0 C189.8,80.7 190.8,83.7 188.8,85.6 C186.8,87.5 180.4,88.9 178.7,89.6" fill="none" stroke="#d8312c" stroke-width="1.0" stroke-dasharray="3,2" stroke-linecap="butt"/>
<circle cx="191.2" cy="75.3" r="1.7" fill="#d8312c"/>
<circle cx="185.6" cy="86.9" r="1.7" fill="#d8312c"/>
<path d="M209.0,57.4 C209.3,58.4 211.3,61.7 211.0,63.4 C210.7,65.1 207.7,66.8 207.0,67.5" fill="none" stroke="#d8312c" stroke-width="1.0" stroke-dasharray="3,2" stroke-linecap="butt"/>
<circle cx="210.9" cy="63.1" r="1.7" fill="#d8312c"/>
<path d="M219.0,83.6 C221.0,84.9 227.7,89.3 231.1,91.7 C234.5,94.1 237.8,95.4 239.2,97.7 C240.6,100.0 239.4,104.5 239.5,105.8" fill="none" stroke="#d8312c" stroke-width="1.0" stroke-dasharray="3,2" stroke-linecap="butt"/>
<circle cx="224.0" cy="86.9" r="1.7" fill="#d8312c"/>
<circle cx="235.5" cy="94.9" r="1.7" fill="#d8312c"/>
<path d="M261.4,73.5 C261.1,74.8 260.1,78.6 259.4,81.6 C258.7,84.6 257.6,90.0 257.3,91.7" fill="none" stroke="#d8312c" stroke-width="1.0" stroke-dasharray="3,2" stroke-linecap="butt"/>
<circle cx="260.0" cy="79.3" r="1.7" fill="#d8312c"/>
<path d="M90.0,85.6 C92.0,87.9 98.7,95.0 102.1,99.7 C105.5,104.4 107.8,110.8 110.2,113.8 C112.6,116.8 115.2,117.2 116.2,117.9" fill="none" stroke="#d8312c" stroke-width="1.0" stroke-dasharray="3,2" stroke-linecap="butt"/>
<circle cx="93.9" cy="90.2" r="1.7" fill="#d8312c"/>
<circle cx="102.8" cy="100.9" r="1.7" fill="#d8312c"/>
<circle cx="109.8" cy="113.1" r="1.7" fill="#d8312c"/>
<path d="M90.0,117.9 C90.7,119.2 93.3,124.6 94.0,125.9" fill="none" stroke="#d8312c" stroke-width="1.0" stroke-dasharray="3,2" stroke-linecap="butt"/>
<circle cx="92.0" cy="121.9" r="1.7" fill="#d8312c"/>
<path d="M138.4,113.8 C140.3,115.3 146.3,120.0 150.0,123.0 C153.7,126.0 158.8,130.5 160.6,132.0" fill="none" stroke="#d8312c" stroke-width="1.0" stroke-dasharray="3,2" stroke-linecap="butt"/>
<circle cx="143.1" cy="117.5" r="1.7" fill="#d8312c"/>
<circle cx="154.0" cy="126.4" r="1.7" fill="#d8312c"/>
<path d="M161.6,150.0 C162.5,151.3 165.1,155.1 167.0,158.0 C168.9,160.9 172.2,166.1 173.3,167.7" fill="none" stroke="#d8312c" stroke-width="1.0" stroke-dasharray="3,2" stroke-linecap="butt"/>
<circle cx="165.0" cy="155.0" r="1.7" fill="#d8312c"/>
<circle cx="172.6" cy="166.7" r="1.7" fill="#d8312c"/>
<path d="M98.8,217.4 C99.5,219.2 101.5,224.6 103.0,228.0 C104.5,231.4 105.8,233.4 107.5,238.0 C109.2,242.6 112.4,252.5 113.4,255.4" fill="none" stroke="#d8312c" stroke-width="1.0" stroke-dasharray="3,2" stroke-linecap="butt"/>
<circle cx="101.0" cy="223.0" r="1.7" fill="#d8312c"/>
<circle cx="106.5" cy="235.8" r="1.7" fill="#d8312c"/>
<circle cx="111.2" cy="249.0" r="1.7" fill="#d8312c"/>
<path d="M154.3,197.0 C156.2,198.9 164.1,203.4 166.0,208.7 C167.9,214.0 166.5,223.2 166.0,229.0 C165.5,234.8 164.0,238.2 163.0,243.7 C162.0,249.2 160.5,258.9 160.0,262.0" fill="none" stroke="#d8312c" stroke-width="1.0" stroke-dasharray="3,2" stroke-linecap="butt"/>
<circle cx="158.5" cy="201.2" r="1.7" fill="#d8312c"/>
<circle cx="166.0" cy="212.2" r="1.7" fill="#d8312c"/>
<circle cx="166.0" cy="226.2" r="1.7" fill="#d8312c"/>
<circle cx="163.8" cy="239.9" r="1.7" fill="#d8312c"/>
<circle cx="161.4" cy="253.7" r="1.7" fill="#d8312c"/>
<path d="M151.4,255.4 C152.4,253.4 156.3,245.6 157.3,243.7" fill="none" stroke="#d8312c" stroke-width="1.0" stroke-dasharray="3,2" stroke-linecap="butt"/>
<circle cx="154.1" cy="250.0" r="1.7" fill="#d8312c"/>
<path d="M226.0,223.3 C226.7,227.7 229.7,245.2 230.4,249.6" fill="none" stroke="#d8312c" stroke-width="1.0" stroke-dasharray="3,2" stroke-linecap="butt"/>
<circle cx="227.0" cy="229.2" r="1.7" fill="#d8312c"/>
<circle cx="229.3" cy="243.0" r="1.7" fill="#d8312c"/>
<path d="M288.8,249.6 C289.8,251.6 293.7,259.4 294.7,261.3" fill="none" stroke="#d8312c" stroke-width="1.0" stroke-dasharray="3,2" stroke-linecap="butt"/>
<circle cx="291.5" cy="255.0" r="1.7" fill="#d8312c"/>
<path d="M305.0,229.0 C305.2,231.7 305.8,242.3 306.0,245.0" fill="none" stroke="#d8312c" stroke-width="1.0" stroke-dasharray="3,2" stroke-linecap="butt"/>
<circle cx="305.4" cy="235.0" r="1.7" fill="#d8312c"/>
<path d="M294.7,161.9 C296.6,159.9 302.1,154.2 306.0,150.0 C309.9,145.8 316.0,139.2 318.0,137.0" fill="none" stroke="#d8312c" stroke-width="1.0" stroke-dasharray="3,2" stroke-linecap="butt"/>
<circle cx="298.8" cy="157.5" r="1.7" fill="#d8312c"/>
<circle cx="308.4" cy="147.4" r="1.7" fill="#d8312c"/>
<circle cx="317.9" cy="137.1" r="1.7" fill="#d8312c"/>
<path d="M303.5,164.8 C305.6,163.2 311.6,158.7 316.0,155.0 C320.4,151.3 327.7,144.9 330.0,142.9" fill="none" stroke="#d8312c" stroke-width="1.0" stroke-dasharray="3,2" stroke-linecap="butt"/>
<circle cx="308.2" cy="161.1" r="1.7" fill="#d8312c"/>
<circle cx="319.1" cy="152.3" r="1.7" fill="#d8312c"/>
<circle cx="329.7" cy="143.2" r="1.7" fill="#d8312c"/>
<path d="M343.0,64.0 C342.0,66.3 338.0,75.7 337.0,78.0" fill="none" stroke="#d8312c" stroke-width="1.0" stroke-dasharray="3,2" stroke-linecap="butt"/>
<circle cx="340.6" cy="69.5" r="1.7" fill="#d8312c"/>
<path d="M347.0,70.0 C346.5,72.0 344.5,80.0 344.0,82.0" fill="none" stroke="#d8312c" stroke-width="1.0" stroke-dasharray="3,2" stroke-linecap="butt"/>
<circle cx="345.5" cy="75.8" r="1.7" fill="#d8312c"/>
<path d="M436.3,40.0 C435.8,42.5 433.8,49.5 433.0,55.0 C432.2,60.5 431.7,70.0 431.4,73.0" fill="none" stroke="#d8312c" stroke-width="1.0" stroke-dasharray="3,2" stroke-linecap="butt"/>
<circle cx="435.0" cy="45.9" r="1.7" fill="#d8312c"/>
<circle cx="432.6" cy="59.6" r="1.7" fill="#d8312c"/>
<path d="M441.0,50.0 C440.7,52.3 439.7,59.3 439.0,64.0 C438.3,68.7 437.3,75.7 437.0,78.0" fill="none" stroke="#d8312c" stroke-width="1.0" stroke-dasharray="3,2" stroke-linecap="butt"/>
<circle cx="440.2" cy="55.9" r="1.7" fill="#d8312c"/>
<circle cx="438.2" cy="69.8" r="1.7" fill="#d8312c"/>
<path d="M410.0,12.0 C409.8,13.3 409.2,18.7 409.0,20.0" fill="none" stroke="#d8312c" stroke-width="1.0" stroke-dasharray="3,2" stroke-linecap="butt"/>
<circle cx="409.5" cy="16.0" r="1.7" fill="#d8312c"/>
<path d="M427.0,88.0 C426.5,90.5 424.0,98.0 424.0,103.0 C424.0,108.0 427.3,113.2 427.0,118.0 C426.7,122.8 422.8,129.7 422.0,132.0" fill="none" stroke="#d8312c" stroke-width="1.0" stroke-dasharray="3,2" stroke-linecap="butt"/>
<circle cx="425.8" cy="93.9" r="1.7" fill="#d8312c"/>
<circle cx="424.9" cy="107.6" r="1.7" fill="#d8312c"/>
<circle cx="425.9" cy="121.2" r="1.7" fill="#d8312c"/>
<path d="M544.6,116.1 C544.2,117.8 543.3,123.2 542.0,126.2 C540.7,129.2 538.3,131.2 537.0,133.9 C535.7,136.6 534.8,140.9 534.4,142.3" fill="none" stroke="#d8312c" stroke-width="1.0" stroke-dasharray="3,2" stroke-linecap="butt"/>
<circle cx="543.1" cy="121.9" r="1.7" fill="#d8312c"/>
<circle cx="536.9" cy="134.3" r="1.7" fill="#d8312c"/>
<path d="M542.0,169.4 C542.9,168.8 543.4,167.3 547.1,166.0 C550.8,164.7 560.0,163.8 564.0,161.8 C568.0,159.8 569.7,155.5 570.8,154.2" fill="none" stroke="#d8312c" stroke-width="1.0" stroke-dasharray="3,2" stroke-linecap="butt"/>
<circle cx="547.0" cy="166.1" r="1.7" fill="#d8312c"/>
<circle cx="560.6" cy="162.7" r="1.7" fill="#d8312c"/>
<path d="M487.0,108.0 C487.5,110.3 489.5,119.7 490.0,122.0" fill="none" stroke="#d8312c" stroke-width="1.0" stroke-dasharray="3,2" stroke-linecap="butt"/>
<circle cx="488.3" cy="113.9" r="1.7" fill="#d8312c"/>
<path d="M478.0,135.0 C479.0,137.2 483.0,145.8 484.0,148.0" fill="none" stroke="#d8312c" stroke-width="1.0" stroke-dasharray="3,2" stroke-linecap="butt"/>
<circle cx="480.5" cy="140.4" r="1.7" fill="#d8312c"/>
<path d="M337.0,190.0 C337.8,193.7 341.2,208.3 342.0,212.0" fill="none" stroke="#d8312c" stroke-width="1.0" stroke-dasharray="3,2" stroke-linecap="butt"/>
<circle cx="338.3" cy="195.9" r="1.7" fill="#d8312c"/>
<circle cx="341.4" cy="209.5" r="1.7" fill="#d8312c"/>
<path d="M350.0,205.0 C351.0,207.8 355.0,219.2 356.0,222.0" fill="none" stroke="#d8312c" stroke-width="1.0" stroke-dasharray="3,2" stroke-linecap="butt"/>
<circle cx="352.0" cy="210.7" r="1.7" fill="#d8312c"/>
<path d="M369.6,158.9 C371.3,158.7 376.7,158.2 380.0,157.5 C383.3,156.8 386.7,157.6 389.3,154.9 C391.9,152.2 394.1,145.7 395.5,141.5 C396.9,137.3 397.6,131.9 398.0,130.0" fill="none" stroke="#d8312c" stroke-width="1.0" stroke-dasharray="3,2" stroke-linecap="butt"/>
<circle cx="375.5" cy="158.1" r="1.7" fill="#d8312c"/>
<circle cx="389.2" cy="154.9" r="1.7" fill="#d8312c"/>
<circle cx="395.1" cy="142.3" r="1.7" fill="#d8312c"/>
<path d="M340.0,170.0 C341.5,169.3 346.3,166.2 349.0,166.0 C351.7,165.8 354.8,168.5 356.0,169.0" fill="none" stroke="#d8312c" stroke-width="1.0" stroke-dasharray="3,2" stroke-linecap="butt"/>
<circle cx="345.5" cy="167.6" r="1.7" fill="#d8312c"/>
<path d="M332.1,128.0 C333.8,127.0 338.7,123.8 342.0,122.0 C345.3,120.2 350.2,118.2 351.8,117.4" fill="none" stroke="#d8312c" stroke-width="1.0" stroke-dasharray="3,2" stroke-linecap="butt"/>
<circle cx="337.2" cy="124.9" r="1.7" fill="#d8312c"/>
<circle cx="349.6" cy="118.4" r="1.7" fill="#d8312c"/>
<path d="M90.0,157.5 C92.0,157.8 95.4,156.8 101.7,159.0 C108.0,161.2 120.2,166.9 128.0,170.6 C135.8,174.2 140.6,177.4 148.5,180.9 C156.4,184.4 168.1,188.6 175.4,191.3 C182.7,194.0 186.7,194.8 192.3,197.2 C197.9,199.6 203.6,204.0 209.2,205.7 C214.8,207.4 219.3,207.4 226.1,207.4 C232.9,207.4 241.5,206.0 250.0,205.7 C258.5,205.4 267.2,205.0 277.1,205.7 C287.0,206.4 300.5,209.1 309.3,210.1 C318.1,211.1 322.9,212.2 330.0,211.6 C337.1,211.0 342.2,207.8 351.8,206.4 C361.4,205.0 378.0,204.8 387.9,203.2 C397.8,201.6 407.4,197.9 411.3,196.9" fill="none" stroke="#000" stroke-width="1.0"/><path d="M100.0,158.2L103.8,159.9L103.3,155.8ZM127.4,170.3L131.2,172.2L130.9,168.1ZM154.5,183.2L158.4,184.7L157.7,180.6ZM182.6,193.8L186.5,195.2L185.7,191.1ZM210.0,205.8L214.1,206.2L212.4,202.4ZM239.8,206.4L244.0,206.1L241.7,202.7ZM269.8,205.7L274.0,205.7L271.9,202.1ZM299.6,208.8L303.8,209.3L302.2,205.5ZM329.5,211.7L333.6,210.8L330.7,207.8ZM358.8,205.8L363.0,205.4L360.6,202.0ZM388.7,203.0L392.7,201.9L389.8,199.0Z" fill="#000"/>
<path d="M90.0,197.0 C94.9,197.2 108.0,197.7 119.2,198.4 C130.4,199.1 149.5,199.6 157.3,201.3 C165.1,203.0 164.6,207.5 166.0,208.7" fill="none" stroke="#000" stroke-width="1.0"/><path d="M99.9,197.5L104.1,197.7L102.2,194.0ZM129.8,199.2L134.0,199.5L132.2,195.8ZM159.2,202.9L162.4,205.6L163.1,201.5Z" fill="#000"/>
<path d="M160.2,170.6 C168.0,170.8 194.3,171.6 207.0,172.1 C219.7,172.6 226.5,172.9 236.2,173.6 C245.9,174.3 254.7,175.3 265.4,176.5 C276.1,177.7 289.7,179.9 300.5,180.9 C311.3,181.9 321.4,182.3 330.0,182.3 C338.6,182.3 346.4,180.4 351.8,180.9 C357.2,181.4 358.9,183.2 362.4,185.2 C365.9,187.1 366.4,192.8 373.0,192.6 C379.6,192.4 396.9,185.5 401.7,184.1" fill="none" stroke="#000" stroke-width="1.0"/><path d="M170.1,170.9L174.3,171.1L172.3,167.4ZM200.1,171.9L204.3,172.0L202.3,168.4ZM230.0,173.3L234.2,173.5L232.3,169.8ZM259.9,176.0L264.1,176.4L262.4,172.6ZM289.7,179.5L293.9,180.1L292.2,176.3ZM319.6,181.8L323.8,182.0L321.9,178.3ZM349.5,181.0L353.7,180.8L351.4,177.3ZM376.2,191.6L380.3,190.4L377.2,187.6Z" fill="#000"/>
<path d="M236.2,194.0 C241.1,194.2 255.6,195.0 265.4,195.5 C275.1,196.0 283.9,196.6 294.7,197.0 C305.5,197.4 318.7,197.7 330.0,198.0 C341.3,198.3 350.4,200.2 362.4,199.0 C374.3,197.8 395.1,191.9 401.7,190.5" fill="none" stroke="#000" stroke-width="1.0"/><path d="M246.1,194.5L250.3,194.7L248.4,191.1ZM276.0,196.0L280.2,196.3L278.3,192.6ZM306.0,197.3L310.2,197.4L308.2,193.8ZM336.0,198.2L340.2,198.3L338.2,194.7ZM365.9,198.2L370.0,197.4L367.2,194.3ZM395.2,191.9L399.3,191.0L396.5,188.0Z" fill="#000"/>
<path d="M253.7,199.9 C260.5,201.4 282.0,205.8 294.7,208.7 C307.4,211.6 320.5,216.2 330.0,217.4 C339.5,218.6 339.3,219.1 351.8,216.0 C364.3,212.9 396.0,201.8 404.9,199.0" fill="none" stroke="#000" stroke-width="1.0"/><path d="M263.4,202.0L267.5,202.9L266.2,198.9ZM292.7,208.2L296.8,209.2L295.6,205.2ZM321.9,215.4L325.9,216.4L324.7,212.4ZM351.6,216.1L355.6,214.8L352.5,212.0ZM380.1,206.9L384.1,205.6L381.1,202.9Z" fill="#000"/>
<path d="M160.0,97.5 C165.0,99.4 180.7,106.1 190.0,109.0 C199.3,111.9 207.0,114.0 215.7,115.0 C224.4,116.0 233.7,116.0 242.0,115.0 C250.3,114.0 257.6,110.2 265.4,109.2 C273.2,108.2 280.5,108.2 288.8,109.2 C297.1,110.2 309.1,112.5 315.0,115.0 C320.9,117.5 321.5,120.6 324.0,123.9 C326.5,127.2 329.0,133.2 330.0,135.0" fill="none" stroke="#000" stroke-width="1.0"/><path d="M169.2,101.0L173.2,102.5L169.9,105.1ZM197.6,110.8L201.7,111.7L198.8,114.7ZM227.1,115.0L231.3,115.0L229.2,118.6ZM256.6,111.4L260.7,110.4L259.5,114.3ZM286.4,109.2L290.6,109.2L288.5,112.8ZM315.5,115.5L318.5,118.5L314.5,119.5Z" fill="#000"/>
<path d="M274.2,107.8 C277.6,109.0 287.9,112.3 294.7,115.0 C301.5,117.7 310.2,121.0 315.1,123.9 C320.0,126.8 322.5,131.2 324.0,132.6" fill="none" stroke="#000" stroke-width="1.0"/><path d="M283.5,111.1L287.5,112.5L284.3,115.1ZM311.4,122.3L315.2,123.9L311.9,126.4Z" fill="#000"/>
<path d="M177.7,123.9 C181.6,125.1 195.2,128.8 201.1,131.2 C206.9,133.6 210.9,137.3 212.8,138.5" fill="none" stroke="#000" stroke-width="1.0"/><path d="M187.2,126.8L191.2,128.1L188.1,130.9ZM209.9,136.7L213.5,138.9L209.8,140.8Z" fill="#000"/>
<path d="M260.4,25.0 C262.2,25.5 266.2,28.2 271.4,28.0 C276.6,27.8 283.5,24.8 291.6,24.0 C299.7,23.2 310.4,23.7 320.0,23.5 C329.6,23.3 340.0,23.1 349.0,22.6 C358.0,22.1 369.8,20.9 374.0,20.6" fill="none" stroke="#000" stroke-width="1.0"/><path d="M269.9,28.3L274.0,27.5L271.3,24.4ZM299.5,23.9L303.7,23.8L301.5,20.3ZM329.5,23.2L333.7,23.1L331.5,19.6ZM359.5,21.8L363.6,21.4L361.3,18.0Z" fill="#000"/>
<path d="M302.6,11.4 C305.5,11.3 312.6,10.3 320.0,11.0 C327.4,11.7 342.5,15.0 347.0,15.8" fill="none" stroke="#000" stroke-width="1.0"/><path d="M312.5,11.2L316.7,11.1L314.5,7.6ZM342.1,14.9L346.3,15.7L344.8,11.8Z" fill="#000"/>
<path d="M335.5,36.1 C341.1,35.7 363.8,34.2 369.4,33.8" fill="none" stroke="#000" stroke-width="1.0"/><path d="M345.4,35.4L349.6,35.1L347.2,31.7Z" fill="#000"/>
<path d="M330.4,133.9 C333.2,134.8 340.8,137.6 347.3,139.2 C353.8,140.8 363.8,142.3 369.6,143.3 C375.4,144.3 378.4,144.3 382.1,145.0 C385.8,145.7 390.4,147.2 392.0,147.7" fill="none" stroke="#000" stroke-width="1.0"/><path d="M344.6,138.4L348.6,139.6L347.7,135.6ZM378.0,144.4L382.2,145.0L380.6,141.2Z" fill="#000"/>
<path d="M253.7,242.3 C260.5,244.0 282.0,250.6 294.7,252.5 C307.4,254.4 320.5,254.4 330.0,254.0 C339.5,253.6 346.0,250.3 351.8,250.0 C357.6,249.7 362.5,251.7 364.6,252.0" fill="none" stroke="#000" stroke-width="1.0"/><path d="M263.3,244.7L267.4,245.7L266.2,241.7ZM292.4,251.9L296.5,252.9L295.3,249.0ZM322.3,253.7L326.5,253.9L324.6,250.2ZM352.0,250.0L356.1,250.7L354.6,246.8Z" fill="#000"/>
<path d="M421.9,216.0 C426.1,216.9 435.9,219.0 447.3,221.3 C458.7,223.6 479.3,227.9 490.0,229.7 C500.7,231.5 508.1,231.7 511.7,232.1" fill="none" stroke="#000" stroke-width="1.0"/><path d="M431.6,218.0L435.7,218.9L434.4,215.0ZM461.0,224.0L465.1,224.8L463.7,220.9ZM490.4,229.7L494.6,230.2L492.9,226.4Z" fill="#000"/>
<path d="M419.7,227.6 C422.2,228.7 430.0,230.8 434.6,234.0 C439.2,237.2 441.6,242.8 447.3,246.7 C453.0,250.6 463.7,254.8 468.6,257.3 C473.6,259.8 475.6,260.9 477.0,261.6" fill="none" stroke="#000" stroke-width="1.0"/><path d="M428.8,231.5L432.7,233.2L429.3,235.6ZM452.4,249.2L456.2,251.1L452.7,253.4Z" fill="#000"/>
<path d="M473.0,44.8 C477.5,46.1 492.3,50.1 500.0,52.6 C507.7,55.1 515.8,58.8 519.0,60.0" fill="none" stroke="#000" stroke-width="1.0"/><path d="M482.5,47.5L486.5,48.7L483.5,51.6ZM511.0,56.9L514.9,58.4L511.7,61.0Z" fill="#000"/>
<path d="M447.9,61.3 C451.8,62.3 464.6,64.5 471.0,67.1 C477.4,69.7 481.8,73.6 486.6,76.8 C491.4,80.0 496.1,83.8 500.0,86.5 C503.9,89.2 508.3,91.9 510.0,93.0" fill="none" stroke="#000" stroke-width="1.0"/><path d="M457.5,63.7L461.6,64.7L458.7,67.7ZM484.7,75.6L488.2,77.8L484.6,79.7Z" fill="#000"/>
<path d="M469.2,59.4 C474.3,60.7 494.9,65.8 500.0,67.1" fill="none" stroke="#000" stroke-width="1.0"/><path d="M478.8,61.8L482.9,62.8L480.0,65.8Z" fill="#000"/>
<path d="M447.9,104.0 C452.4,106.6 466.3,114.6 475.0,119.4 C483.7,124.2 492.5,128.7 500.0,133.0 C507.5,137.3 516.7,143.0 520.0,145.0" fill="none" stroke="#000" stroke-width="1.0"/><path d="M456.5,108.9L460.2,111.0L456.6,113.0ZM482.7,123.6L486.4,125.6L482.8,127.7ZM508.8,138.3L512.4,140.4L508.8,142.4Z" fill="#000"/>
<path d="M519.0,38.0 C523.8,40.1 539.3,47.8 548.0,50.7 C556.7,53.6 567.5,54.7 571.4,55.5" fill="none" stroke="#000" stroke-width="1.0"/><path d="M528.1,42.0L531.9,43.7L528.6,46.1ZM556.1,52.4L560.2,53.2L557.4,56.3Z" fill="#000"/>
<path d="M490.0,41.0 C491.9,41.8 496.6,43.0 501.6,45.8 C506.6,48.6 516.9,56.0 520.0,58.0" fill="none" stroke="#000" stroke-width="1.0"/><path d="M499.1,44.8L503.0,46.4L499.7,48.9Z" fill="#000"/>
<path d="M490.0,65.2 C493.2,66.2 502.9,68.4 509.4,71.0 C515.9,73.6 521.4,77.8 528.8,80.7 C536.2,83.6 546.9,87.6 554.0,88.4 C561.1,89.2 565.9,85.5 571.4,85.5 C576.9,85.5 579.5,87.9 586.9,88.4 C594.3,88.9 609.5,86.6 616.0,88.4 C622.5,90.2 624.0,97.3 625.6,99.1" fill="none" stroke="#000" stroke-width="1.0"/><path d="M499.5,68.0L503.5,69.2L500.5,72.1ZM526.9,80.1L530.9,81.3L527.8,84.1ZM555.6,88.1L559.7,87.4L558.2,91.3ZM585.1,88.4L589.3,88.4L587.2,92.0ZM615.4,87.7L618.2,90.9L614.1,91.7Z" fill="#000"/>
<path d="M490.0,82.6 C493.2,84.0 503.9,88.1 509.4,91.3 C514.9,94.5 519.5,98.9 523.0,102.0 C526.5,105.1 529.4,108.5 530.7,109.8" fill="none" stroke="#000" stroke-width="1.0"/><path d="M499.0,86.7L502.9,88.4L499.5,90.8ZM523.9,102.9L526.9,105.9L522.9,107.0Z" fill="#000"/>
<path d="M567.5,65.2 C570.7,65.5 575.6,65.5 586.9,67.1 C598.2,68.7 627.2,73.6 635.3,74.9" fill="none" stroke="#000" stroke-width="1.0"/><path d="M577.4,66.2L581.5,66.6L579.8,62.8ZM607.0,70.3L611.2,71.0L609.7,67.2Z" fill="#000"/>
<path d="M590.8,72.9 C595.0,74.2 607.9,77.5 616.0,80.7 C624.1,83.9 635.3,90.4 639.2,92.3" fill="none" stroke="#000" stroke-width="1.0"/><path d="M600.3,75.8L604.3,77.1L601.2,79.9ZM628.1,86.7L631.8,88.6L628.4,90.9Z" fill="#000"/>
<path d="M579.1,94.3 C585.2,94.8 607.6,96.1 616.0,97.2 C624.4,98.3 627.2,100.4 629.5,101.0" fill="none" stroke="#000" stroke-width="1.0"/><path d="M589.0,95.1L593.2,95.4L591.3,91.7ZM618.8,98.0L622.8,99.1L621.8,95.1Z" fill="#000"/>
<path d="M652.0,11.5 C655.3,12.0 668.7,14.0 672.0,14.5" fill="none" stroke="#000" stroke-width="1.0"/><path d="M661.8,13.0L665.9,13.6L664.4,9.7Z" fill="#000"/>
<path d="M676.0,11.0 C679.3,11.6 692.7,13.9 696.0,14.5" fill="none" stroke="#000" stroke-width="1.0"/><path d="M685.8,12.7L689.9,13.4L688.4,9.6Z" fill="#000"/>
<path d="M740.0,13.5 C743.7,14.6 758.3,18.9 762.0,20.0" fill="none" stroke="#000" stroke-width="1.0"/><path d="M751.4,16.9L755.4,18.1L754.4,14.0Z" fill="#000"/>
<path d="M449.8,96.2 C454.0,98.8 468.5,107.9 475.0,111.7 C481.5,115.5 483.9,116.2 489.0,118.8 C494.1,121.4 500.6,124.0 505.8,127.2 C511.0,130.4 514.8,135.0 520.0,138.1 C525.2,141.2 531.4,142.7 537.0,145.7 C542.6,148.7 548.8,152.2 553.9,155.9 C559.0,159.6 563.2,163.2 567.4,167.7 C571.6,172.2 577.3,180.4 579.3,183.0" fill="none" stroke="#000" stroke-width="1.0"/><path d="M458.2,101.4L461.8,103.6L461.9,99.4ZM484.2,116.4L487.9,118.3L487.7,114.1ZM510.4,130.8L513.8,133.3L514.3,129.2ZM536.4,145.3L540.0,147.5L540.1,143.4ZM561.1,162.2L564.3,165.0L565.0,160.9Z" fill="#000"/>
<path d="M510.0,88.0 C512.5,90.0 519.1,96.3 525.0,100.0 C530.9,103.7 540.6,106.8 545.4,110.2 C550.2,113.6 550.8,117.2 553.9,120.3 C557.0,123.4 559.8,125.7 564.0,128.8 C568.2,131.9 573.9,134.5 579.3,139.0 C584.7,143.5 592.0,150.6 596.2,155.9 C600.4,161.2 602.5,166.4 604.7,171.1 C607.0,175.8 608.9,181.7 609.7,183.8" fill="none" stroke="#000" stroke-width="1.0"/><path d="M517.7,94.2L521.0,96.8L521.6,92.7ZM543.5,109.3L547.3,111.1L547.0,107.0ZM565.2,129.6L568.7,132.0L569.0,127.8ZM588.6,148.3L591.5,151.2L592.6,147.2ZM605.4,172.8L606.9,176.7L609.4,173.4Z" fill="#000"/>
<path d="M545.4,122.9 C548.2,124.0 556.6,126.5 562.3,129.6 C567.9,132.7 573.6,137.7 579.3,141.5 C584.9,145.3 590.6,148.7 596.2,152.5 C601.8,156.3 608.3,160.6 613.1,164.3 C617.9,168.0 621.9,171.2 625.0,174.5 C628.1,177.8 630.6,182.2 631.7,183.8" fill="none" stroke="#000" stroke-width="1.0"/><path d="M554.6,126.5L558.5,128.1L557.9,124.0ZM580.1,142.0L583.6,144.3L583.8,140.2ZM605.1,158.7L608.5,161.1L608.8,157.0ZM627.6,178.2L630.1,181.6L631.8,177.8Z" fill="#000"/>
<path d="M578.4,116.1 C580.5,116.1 585.3,114.8 591.1,116.1 C596.9,117.4 606.6,120.7 613.1,123.7 C619.6,126.7 624.6,130.1 630.1,133.9 C635.6,137.7 643.4,144.5 646.1,146.6" fill="none" stroke="#000" stroke-width="1.0"/><path d="M588.3,116.1L592.5,116.1L590.4,112.5ZM616.5,125.7L620.1,127.9L620.1,123.7ZM641.1,142.7L644.4,145.3L645.0,141.2Z" fill="#000"/>
<path d="M569.1,125.4 C570.8,125.7 575.6,125.7 579.3,127.1 C583.0,128.5 586.9,131.9 591.1,133.9 C595.3,135.9 602.4,138.1 604.7,138.9" fill="none" stroke="#000" stroke-width="1.0"/><path d="M574.9,126.4L579.1,127.1L577.6,123.2ZM591.0,133.9L595.0,135.3L594.2,131.3Z" fill="#000"/>
<path d="M537.0,125.4 C539.8,126.5 548.8,129.4 553.9,132.2 C559.0,135.0 564.0,139.5 567.4,142.3 C570.8,145.1 573.1,148.0 574.2,149.1" fill="none" stroke="#000" stroke-width="1.0"/><path d="M542.5,127.6L546.4,129.2L545.8,125.1ZM558.5,135.6L561.8,138.1L562.3,134.0ZM572.2,147.1L575.2,150.1L576.2,146.1Z" fill="#000"/>
<path d="M542.0,128.8 C544.5,130.5 553.3,135.3 557.3,139.0 C561.2,142.7 563.2,146.3 565.7,150.8 C568.2,155.3 571.4,163.5 572.5,166.0" fill="none" stroke="#000" stroke-width="1.0"/><path d="M546.9,132.1L550.4,134.4L550.6,130.3ZM560.5,143.5L562.9,146.9L564.6,143.1ZM569.4,159.0L571.1,162.9L573.5,159.5Z" fill="#000"/>
<path d="M542.0,157.6 C544.0,158.7 550.5,161.5 553.9,164.3 C557.3,167.1 559.9,171.2 562.3,174.5 C564.7,177.8 567.3,182.2 568.3,183.8" fill="none" stroke="#000" stroke-width="1.0"/><path d="M547.1,160.5L550.8,162.6L550.7,158.4ZM560.4,172.2L563.1,175.4L564.5,171.6Z" fill="#000"/>
<path d="M170.8,171.2L178.0,178.4L170.8,185.6L163.6,178.4Z" fill="#f58af0" stroke="#fff" stroke-width="1"/>
<path d="M185.2,187.5L192.4,194.7L185.2,201.9L178.0,194.7Z" fill="#f58af0" stroke="#fff" stroke-width="1"/>
<path d="M233.4,163.1L240.6,170.3L233.4,177.5L226.2,170.3Z" fill="#f58af0" stroke="#fff" stroke-width="1"/>
<path d="M233.0,188.2L240.2,195.4L233.0,202.6L225.8,195.4Z" fill="#f58af0" stroke="#fff" stroke-width="1"/>
<path d="M287.3,178.8L294.5,186.0L287.3,193.2L280.1,186.0Z" fill="#f58af0" stroke="#fff" stroke-width="1"/>
<path d="M414.8,129.8L422.0,137.0L414.8,144.2L407.6,137.0Z" fill="#f58af0" stroke="#fff" stroke-width="1"/>
<path d="M419.3,187.5L426.5,194.7L419.3,201.9L412.1,194.7Z" fill="#f58af0" stroke="#fff" stroke-width="1"/>
<path d="M506.3,110.5L513.5,117.7L506.3,124.9L499.1,117.7Z" fill="#f58af0" stroke="#fff" stroke-width="1"/>
<path d="M508.0,165.3L515.2,172.5L508.0,179.7L500.8,172.5Z" fill="#f58af0" stroke="#fff" stroke-width="1"/>
<circle cx="185.4" cy="117.0" r="5.6" fill="#7a08ee" stroke="#fff" stroke-width="1"/>
<circle cx="171.2" cy="126.2" r="5.6" fill="#7a08ee" stroke="#fff" stroke-width="1"/>
<circle cx="233.5" cy="149.0" r="5.6" fill="#7a08ee" stroke="#fff" stroke-width="1"/>
<circle cx="233.0" cy="146.5" r="5.6" fill="#7a08ee" stroke="#fff" stroke-width="1"/>
<circle cx="162.0" cy="169.5" r="5.6" fill="#7a08ee" stroke="#fff" stroke-width="1"/>
<circle cx="215.3" cy="195.8" r="5.6" fill="#7a08ee" stroke="#fff" stroke-width="1"/>
<circle cx="182.4" cy="209.6" r="5.6" fill="#7a08ee" stroke="#fff" stroke-width="1"/>
<circle cx="287.3" cy="151.5" r="5.6" fill="#7a08ee" stroke="#fff" stroke-width="1"/>
<circle cx="412.0" cy="99.9" r="5.6" fill="#7a08ee" stroke="#fff" stroke-width="1"/>
<circle cx="413.2" cy="109.3" r="5.6" fill="#7a08ee" stroke="#fff" stroke-width="1"/>
<circle cx="419.8" cy="111.0" r="5.6" fill="#7a08ee" stroke="#fff" stroke-width="1"/>
<circle cx="506.0" cy="138.5" r="5.6" fill="#7a08ee" stroke="#fff" stroke-width="1"/>
<circle cx="508.0" cy="136.0" r="5.6" fill="#7a08ee" stroke="#fff" stroke-width="1"/>
</svg>
<text x="307.2" y="114.5" font-size="14.5" font-style="italic" fill="#231f20" stroke="#fff" stroke-width="3.2" paint-order="stroke" stroke-linejoin="round" letter-spacing="1.25">Puruo Gangri</text>
<text x="444.8" y="156.1" font-size="14.5" font-style="italic" fill="#231f20" stroke="#fff" stroke-width="3.2" paint-order="stroke" stroke-linejoin="round" letter-spacing="1.25">Geladandong</text>
<text x="761" y="36.3" font-size="24" font-weight="bold" text-anchor="end" fill="#231f20" stroke="#fff" stroke-width="4" paint-order="stroke" stroke-linejoin="round" letter-spacing="1">30-25 Ma</text>
<rect x="739" y="235" width="26" height="29" fill="#fff" stroke="#231f20" stroke-width="1"/>
<text x="752" y="257" font-size="21" text-anchor="middle" fill="#231f20">B</text>
</g>
<rect x="89.5" y="337.0" width="270.5" height="71" fill="#fff" stroke="#444" stroke-width="1"/>
<text x="219" y="358.0" font-size="17.5" font-weight="bold" text-anchor="middle" fill="#231f20" letter-spacing="0.85">Exhumation rate (mm/yr)</text>
<rect x="102.5" y="366.0" width="243" height="17.5" fill="url(#cbar)"/>
<rect x="102.5" y="366.0" width="243" height="17.5" fill="url(#cbarshade)" stroke="#000" stroke-width="1.8"/>
<text x="106.6" y="399.0" font-size="13.5" text-anchor="middle" fill="#231f20" letter-spacing="0.8">0.00</text>
<text x="153.9" y="399.0" font-size="13.5" text-anchor="middle" fill="#231f20" letter-spacing="0.8">0.06</text>
<text x="201.2" y="399.0" font-size="13.5" text-anchor="middle" fill="#231f20" letter-spacing="0.8">0.12</text>
<text x="248.5" y="399.0" font-size="13.5" text-anchor="middle" fill="#231f20" letter-spacing="0.8">0.18</text>
<text x="295.8" y="399.0" font-size="13.5" text-anchor="middle" fill="#231f20" letter-spacing="0.8">0.24</text>
<text x="343.1" y="399.0" font-size="13.5" text-anchor="middle" fill="#231f20" letter-spacing="0.8">0.30</text>
<text x="187.15" y="623.8" font-size="22" text-anchor="middle" fill="#231f20" letter-spacing="1.5">84°E</text>
<text x="366.15" y="623.8" font-size="22" text-anchor="middle" fill="#231f20" letter-spacing="1.5">88°E</text>
<text x="545.15" y="623.8" font-size="22" text-anchor="middle" fill="#231f20" letter-spacing="1.5">92°E</text>
<text x="724.15" y="623.8" font-size="22" text-anchor="middle" fill="#231f20" letter-spacing="1.5">96°E</text>
<text x="400.8" y="644.7" font-size="22" font-weight="bold" text-anchor="middle" fill="#231f20" letter-spacing="1.25">Longitude</text>
<text x="78.5" y="440.8" font-size="22" text-anchor="end" fill="#231f20" letter-spacing="1.5">34°N</text>
<text x="78.5" y="547.1" font-size="22" text-anchor="end" fill="#231f20" letter-spacing="1.5">32°N</text>
<text transform="translate(16.5,487.5) rotate(-90)" font-size="23" font-weight="bold" text-anchor="middle" fill="#231f20" letter-spacing="0.35">Latitude</text>
<clipPath id="ccC"><rect x="864" y="14.6" width="399.5" height="253"/></clipPath><g clip-path="url(#ccC)">
<path d="M864.5,267.6 C860.3,258.2 865.5,185.8 866.0,173.4 C866.5,161.0 868.6,156.8 869.3,143.4 C869.9,130.0 871.6,51.0 872.5,39.6 C873.4,28.2 876.8,30.5 878.7,29.2 C880.6,27.9 888.7,27.1 891.2,26.7 C893.7,26.3 901.3,24.9 903.6,25.0 C905.9,25.1 911.1,27.3 914.0,28.1 C916.9,28.9 929.0,32.0 932.7,33.3 C936.4,34.5 947.9,38.5 951.4,40.6 C954.9,42.7 965.3,51.3 968.0,54.1 C970.7,56.9 976.5,65.3 978.4,68.6 C980.3,71.9 985.2,84.5 986.7,87.3 C988.2,90.1 991.5,95.9 993.0,96.7 C994.5,97.5 998.4,96.9 1001.3,95.6 C1004.2,94.2 1018.1,85.9 1022.0,83.2 C1025.9,80.5 1038.0,71.9 1040.7,68.6 C1043.4,65.3 1047.3,52.8 1049.0,49.9 C1050.7,47.0 1054.9,41.9 1057.3,39.6 C1059.7,37.3 1067.8,28.9 1073.0,27.3 C1078.2,25.7 1098.8,23.8 1109.0,23.2 C1119.2,22.6 1163.3,21.9 1174.8,21.5 C1186.3,21.1 1215.2,19.7 1224.0,19.1 C1232.8,18.5 1259.1,16.1 1263.0,15.8 C1266.9,15.5 1263.3,15.7 1263.0,16.4 C1262.7,17.1 1261.1,20.7 1260.0,23.2 C1258.9,25.7 1254.0,38.7 1252.0,41.2 C1250.0,43.7 1243.2,47.5 1240.4,48.6 C1237.6,49.7 1232.2,51.4 1224.0,51.9 C1215.8,52.4 1169.9,53.2 1158.4,53.5 C1146.9,53.8 1116.6,54.3 1109.2,55.2 C1101.8,56.1 1088.5,61.0 1084.6,62.5 C1080.7,64.0 1074.2,67.6 1069.8,70.7 C1065.4,73.8 1046.1,89.6 1040.7,93.6 C1035.3,97.5 1019.7,107.4 1015.8,110.2 C1011.9,113.0 1005.5,120.0 1001.3,121.6 C997.1,123.2 980.0,125.4 974.2,125.8 C968.4,126.2 947.6,125.7 943.0,125.8 C938.4,125.9 930.8,125.0 928.5,126.8 C926.2,128.6 921.8,137.3 920.2,143.4 C918.6,149.5 914.0,175.0 912.8,187.4 C911.6,199.8 912.6,259.6 907.8,267.6 C903.0,275.6 868.7,277.0 864.5,267.6 Z" fill="#000" fill-opacity="0.075"/>
<path d="M866.0,267.6 C863.4,260.8 868.4,214.8 869.0,200.0 C869.6,185.2 871.5,136.0 872.0,120.0 C872.5,104.0 873.4,49.9 874.0,40.0 C874.6,30.1 876.4,23.1 878.0,21.0 C879.6,18.9 886.1,18.5 890.0,18.5 C893.9,18.5 910.6,20.6 917.0,21.2 C923.4,21.8 945.5,23.4 954.0,24.0 C962.5,24.6 994.9,25.6 1002.0,26.8 C1009.1,28.0 1021.2,33.7 1025.0,36.0 C1028.8,38.3 1037.0,48.4 1040.0,50.0 C1043.0,51.6 1051.5,52.8 1055.0,52.0 C1058.5,51.2 1071.2,43.6 1075.0,42.0 C1078.8,40.4 1087.9,37.4 1093.0,36.2 C1098.1,35.0 1117.8,30.7 1126.0,29.7 C1134.2,28.7 1163.6,27.1 1175.0,26.4 C1186.4,25.7 1231.2,23.0 1240.0,22.3 C1248.8,21.6 1260.7,19.3 1263.0,19.5 C1265.3,19.7 1264.8,22.8 1263.0,24.0 C1261.2,25.2 1249.3,30.4 1245.0,32.0 C1240.7,33.6 1225.5,38.7 1220.0,40.0 C1214.5,41.3 1196.0,43.8 1190.0,45.0 C1184.0,46.2 1166.5,50.5 1160.0,52.0 C1153.5,53.5 1131.7,58.2 1125.0,60.0 C1118.3,61.8 1098.5,68.0 1093.0,70.0 C1087.5,72.0 1075.3,79.2 1070.0,80.0 C1064.7,80.8 1046.0,78.4 1040.0,78.0 C1034.0,77.6 1016.0,76.4 1010.0,76.0 C1004.0,75.6 989.3,74.0 980.0,74.0 C970.7,74.0 924.6,75.4 917.4,75.7 C910.2,76.0 909.7,76.2 908.3,77.2 C906.9,78.2 904.1,82.2 903.0,85.9 C901.9,89.6 898.2,107.9 897.6,113.9 C897.0,119.9 896.7,137.4 896.5,146.0 C896.3,154.6 895.6,187.8 895.4,200.0 C895.2,212.2 897.5,260.8 894.6,267.6 C891.7,274.4 868.6,274.4 866.0,267.6 Z" fill="#000" fill-opacity="0.075"/>
</g>
<path d="M884.4,267.6 C885.5,256.2 888.9,219.3 891.0,199.4 C893.1,179.5 895.8,159.0 897.0,148.4 C898.2,137.8 897.9,140.7 898.4,136.0 C898.9,131.3 899.6,124.7 900.3,120.0 C901.0,115.3 901.8,111.4 902.7,107.7 C903.6,104.0 904.7,100.8 905.8,97.9 C906.9,95.0 908.1,92.8 909.5,90.5 C910.9,88.2 912.4,85.9 914.4,84.4 C916.4,82.9 919.2,81.5 921.8,81.3 C924.4,81.1 926.0,81.7 930.0,83.3 C934.0,84.9 940.5,88.0 945.8,90.8 C951.0,93.6 956.2,97.3 961.5,100.2 C966.8,103.1 972.7,106.5 977.3,108.1 C981.9,109.7 985.0,110.1 989.0,110.0 C993.0,109.9 996.4,109.4 1001.0,107.3 C1005.6,105.1 1012.0,100.4 1016.8,97.1 C1021.6,93.8 1025.0,91.3 1030.0,87.6 C1035.0,83.9 1044.2,77.0 1047.0,74.9" fill="none" stroke="#111" stroke-width="2.2"/>
<path d="M1047.0,74.9 C1050.8,72.3 1062.2,63.8 1069.8,59.3 C1077.4,54.8 1086.2,50.5 1092.8,47.8 C1099.4,45.0 1102.4,44.1 1109.2,42.8 C1116.0,41.5 1124.2,40.6 1133.8,39.9 C1143.4,39.2 1155.7,39.6 1166.6,38.7 C1177.5,37.8 1189.8,36.1 1199.4,34.6 C1209.0,33.1 1215.8,31.6 1224.0,29.7 C1232.2,27.8 1242.1,25.0 1248.6,23.2 C1255.1,21.3 1260.6,19.4 1263.0,18.6" fill="none" stroke="#555050" stroke-width="1.8"/>
<path d="M879.8,267.6 C880.3,256.3 882.0,221.3 883.0,200.0 C884.0,178.7 885.1,155.0 886.0,140.0 C886.9,125.0 887.6,119.0 888.5,110.0 C889.4,101.0 890.5,93.0 891.6,85.9 C892.7,78.8 894.0,72.3 895.2,67.4 C896.4,62.5 897.4,59.1 898.9,56.3 C900.4,53.5 902.6,52.0 904.5,50.8 C906.4,49.6 904.8,48.8 910.0,48.9 C915.2,49.0 927.0,50.5 935.9,51.7 C944.8,52.9 952.6,54.1 963.6,56.3 C974.6,58.4 992.8,62.6 1002.0,64.6 C1011.2,66.6 1012.9,67.0 1018.9,68.5 C1024.9,70.0 1032.4,72.5 1037.9,73.7 C1043.4,74.9 1047.3,75.6 1052.0,75.6 C1056.7,75.6 1060.7,75.0 1066.2,73.7 C1071.7,72.4 1079.7,69.5 1085.2,67.5 C1090.7,65.5 1092.7,64.3 1099.4,61.4 C1106.1,58.5 1115.8,53.4 1125.6,50.2 C1135.4,47.0 1147.5,44.6 1158.4,42.0 C1169.3,39.4 1180.3,37.2 1191.2,34.6 C1202.1,32.0 1212.0,29.1 1224.0,26.4 C1236.0,23.7 1256.5,19.6 1263.0,18.2" fill="none" stroke="#2b2627" stroke-width="2.2"/>
<path d="M864,14.6V267.6H1263.5V14.6Z" fill="none" stroke="#555" stroke-width="1.4"/>
<path d="M864,56.8H868.5M864,98.9H868.5M864,141.1H868.5M864,183.3H868.5M864,225.4H868.5M889.0,267.6V272.1M982.5,267.6V272.1M1076.0,267.6V272.1M1169.5,267.6V272.1M1263.5,267.6V272.1" stroke="#555" stroke-width="1.3" fill="none"/>
<text x="865.8" y="22.6" font-size="17" text-anchor="end" fill="#231f20" letter-spacing="1.3">0</text>
<text x="863.0" y="64.8" font-size="17" text-anchor="end" fill="#231f20" letter-spacing="1.3">50</text>
<text x="860.5" y="106.9" font-size="17" text-anchor="end" fill="#231f20" letter-spacing="1.3">100</text>
<text x="860.5" y="149.1" font-size="17" text-anchor="end" fill="#231f20" letter-spacing="1.3">150</text>
<text x="860.5" y="191.3" font-size="17" text-anchor="end" fill="#231f20" letter-spacing="1.3">200</text>
<text x="860.5" y="233.4" font-size="17" text-anchor="end" fill="#231f20" letter-spacing="1.3">250</text>
<text x="860.5" y="275.6" font-size="17" text-anchor="end" fill="#231f20" letter-spacing="1.3">300</text>
<text x="887.0" y="289.1" font-size="17" text-anchor="middle" fill="#231f20" letter-spacing="1.3">40</text>
<text x="980.5" y="289.1" font-size="17" text-anchor="middle" fill="#231f20" letter-spacing="1.3">30</text>
<text x="1074.0" y="289.1" font-size="17" text-anchor="middle" fill="#231f20" letter-spacing="1.3">20</text>
<text x="1167.5" y="289.1" font-size="17" text-anchor="middle" fill="#231f20" letter-spacing="1.3">10</text>
<text x="1269.5" y="289.1" font-size="17" text-anchor="end" fill="#231f20" letter-spacing="1.3">0</text>
<text x="1076" y="317.0" font-size="22" font-weight="bold" text-anchor="middle" fill="#231f20" letter-spacing="0.6">Time (Ma)</text>
<text transform="translate(818.2,147.3) rotate(-90)" font-size="22" font-weight="bold" text-anchor="middle" fill="#231f20" letter-spacing="0.95">Temperature (°C)</text>
<text x="1098.3" y="169.8" font-size="22" font-weight="bold" text-anchor="middle" fill="#231f20" letter-spacing="1.15">Puruo Gangri</text>
<rect x="1236.6" y="238.7" width="26.9" height="29" fill="#fff" stroke="#231f20" stroke-width="1"/>
<text x="1249.5" y="260.6" font-size="22" text-anchor="middle" fill="#231f20">C</text>
<clipPath id="ccD"><rect x="864" y="341.2" width="399.5" height="253"/></clipPath><g clip-path="url(#ccD)">
<path d="M864.5,594.2 C860.3,584.8 865.5,512.4 866.0,500.0 C866.5,487.6 868.6,483.4 869.3,470.0 C869.9,456.6 871.6,377.6 872.5,366.2 C873.4,354.8 876.8,357.1 878.7,355.8 C880.6,354.5 888.7,353.7 891.2,353.3 C893.7,352.9 901.3,351.5 903.6,351.6 C905.9,351.7 911.1,353.9 914.0,354.7 C916.9,355.5 929.0,358.6 932.7,359.9 C936.4,361.1 947.9,365.1 951.4,367.2 C954.9,369.3 965.3,377.9 968.0,380.7 C970.7,383.5 976.5,391.9 978.4,395.2 C980.3,398.5 985.2,411.1 986.7,413.9 C988.2,416.7 991.5,422.5 993.0,423.3 C994.5,424.1 998.4,423.6 1001.3,422.2 C1004.2,420.8 1018.1,412.5 1022.0,409.8 C1025.9,407.1 1038.0,398.5 1040.7,395.2 C1043.4,391.9 1047.3,379.4 1049.0,376.5 C1050.7,373.6 1054.9,368.5 1057.3,366.2 C1059.7,363.9 1067.8,355.5 1073.0,353.9 C1078.2,352.3 1098.8,350.4 1109.0,349.8 C1119.2,349.2 1163.3,348.5 1174.8,348.1 C1186.3,347.7 1215.2,346.3 1224.0,345.7 C1232.8,345.1 1259.1,342.7 1263.0,342.4 C1266.9,342.1 1263.3,342.3 1263.0,343.0 C1262.7,343.7 1261.1,347.3 1260.0,349.8 C1258.9,352.3 1254.0,365.3 1252.0,367.8 C1250.0,370.3 1243.2,374.1 1240.4,375.2 C1237.6,376.3 1232.2,378.0 1224.0,378.5 C1215.8,379.0 1169.9,379.8 1158.4,380.1 C1146.9,380.4 1116.6,380.9 1109.2,381.8 C1101.8,382.7 1088.5,387.6 1084.6,389.1 C1080.7,390.7 1074.2,394.2 1069.8,397.3 C1065.4,400.4 1046.1,416.2 1040.7,420.2 C1035.3,424.1 1019.7,434.0 1015.8,436.8 C1011.9,439.6 1005.5,446.6 1001.3,448.2 C997.1,449.8 980.0,452.0 974.2,452.4 C968.4,452.8 947.6,452.3 943.0,452.4 C938.4,452.5 930.8,451.6 928.5,453.4 C926.2,455.2 921.8,463.9 920.2,470.0 C918.6,476.1 914.0,501.6 912.8,514.0 C911.6,526.4 912.6,586.2 907.8,594.2 C903.0,602.2 868.7,603.6 864.5,594.2 Z" fill="#000" fill-opacity="0.075"/>
</g>
<path d="M884.4,594.2 C885.5,582.8 888.9,545.9 891.0,526.0 C893.1,506.1 895.8,485.6 897.0,475.0 C898.2,464.4 897.9,467.3 898.4,462.6 C898.9,457.9 899.6,451.3 900.3,446.6 C901.0,441.9 901.8,438.0 902.7,434.3 C903.6,430.6 904.7,427.4 905.8,424.5 C906.9,421.6 908.1,419.4 909.5,417.1 C910.9,414.9 912.4,412.5 914.4,411.0 C916.4,409.5 919.2,408.1 921.8,407.9 C924.4,407.7 926.0,408.3 930.0,409.9 C934.0,411.5 940.5,414.6 945.8,417.4 C951.0,420.2 956.2,423.9 961.5,426.8 C966.8,429.7 972.7,433.1 977.3,434.7 C981.9,436.3 985.0,436.7 989.0,436.6 C993.0,436.5 996.4,436.0 1001.0,433.9 C1005.6,431.8 1012.0,427.0 1016.8,423.7 C1021.6,420.4 1025.0,417.9 1030.0,414.2 C1035.0,410.5 1040.4,406.2 1047.0,401.5 C1053.6,396.8 1062.2,390.4 1069.8,385.9 C1077.4,381.4 1086.2,377.1 1092.8,374.4 C1099.4,371.6 1102.4,370.7 1109.2,369.4 C1116.0,368.1 1124.2,367.2 1133.8,366.5 C1143.4,365.8 1155.7,366.2 1166.6,365.3 C1177.5,364.4 1189.8,362.7 1199.4,361.2 C1209.0,359.7 1215.8,358.2 1224.0,356.3 C1232.2,354.4 1242.1,351.7 1248.6,349.8 C1255.1,347.9 1260.6,346.0 1263.0,345.2" fill="none" stroke="#0a0a0a" stroke-width="2.4"/>
<path d="M864,341.2V594.2H1263.5V341.2Z" fill="none" stroke="#555" stroke-width="1.4"/>
<path d="M864,383.4H868.5M864,425.5H868.5M864,467.7H868.5M864,509.9H868.5M864,552.0H868.5M889.0,594.2V598.7M982.5,594.2V598.7M1076.0,594.2V598.7M1169.5,594.2V598.7M1263.5,594.2V598.7" stroke="#555" stroke-width="1.3" fill="none"/>
<text x="865.8" y="349.2" font-size="17" text-anchor="end" fill="#231f20" letter-spacing="1.3">0</text>
<text x="863.0" y="391.4" font-size="17" text-anchor="end" fill="#231f20" letter-spacing="1.3">50</text>
<text x="860.5" y="433.5" font-size="17" text-anchor="end" fill="#231f20" letter-spacing="1.3">100</text>
<text x="860.5" y="475.7" font-size="17" text-anchor="end" fill="#231f20" letter-spacing="1.3">150</text>
<text x="860.5" y="517.9" font-size="17" text-anchor="end" fill="#231f20" letter-spacing="1.3">200</text>
<text x="860.5" y="560.0" font-size="17" text-anchor="end" fill="#231f20" letter-spacing="1.3">250</text>
<text x="860.5" y="602.2" font-size="17" text-anchor="end" fill="#231f20" letter-spacing="1.3">300</text>
<text x="887.0" y="615.7" font-size="17" text-anchor="middle" fill="#231f20" letter-spacing="1.3">40</text>
<text x="980.5" y="615.7" font-size="17" text-anchor="middle" fill="#231f20" letter-spacing="1.3">30</text>
<text x="1074.0" y="615.7" font-size="17" text-anchor="middle" fill="#231f20" letter-spacing="1.3">20</text>
<text x="1167.5" y="615.7" font-size="17" text-anchor="middle" fill="#231f20" letter-spacing="1.3">10</text>
<text x="1269.5" y="615.7" font-size="17" text-anchor="end" fill="#231f20" letter-spacing="1.3">0</text>
<text x="1076" y="643.6" font-size="22" font-weight="bold" text-anchor="middle" fill="#231f20" letter-spacing="0.6">Time (Ma)</text>
<text transform="translate(818.2,473.9) rotate(-90)" font-size="22" font-weight="bold" text-anchor="middle" fill="#231f20" letter-spacing="0.95">Temperature (°C)</text>
<text x="1099.5" y="506.5" font-size="22" font-weight="bold" text-anchor="middle" fill="#231f20" letter-spacing="1.15">Geladandong</text>
<rect x="1236.6" y="565.3" width="26.9" height="29" fill="#fff" stroke="#231f20" stroke-width="1"/>
<text x="1249.5" y="587.2" font-size="22" text-anchor="middle" fill="#231f20">D</text>
</svg></body></html>
